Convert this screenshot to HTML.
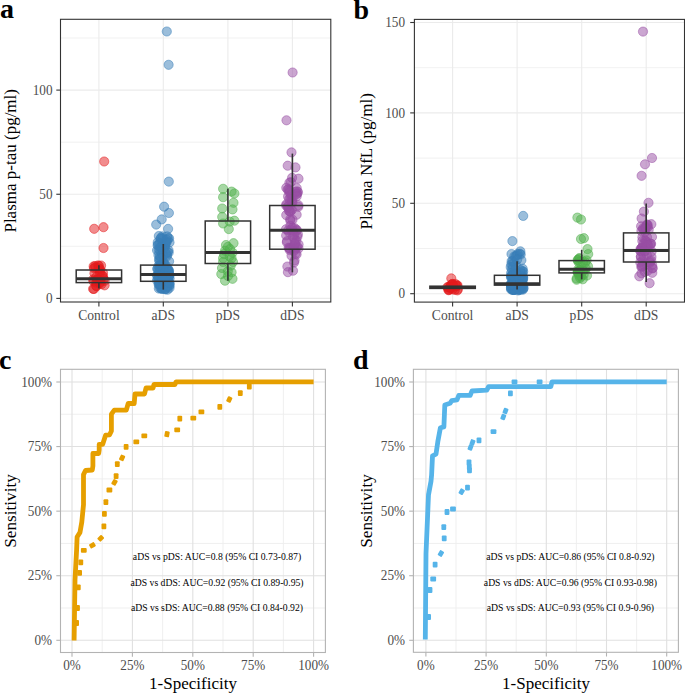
<!DOCTYPE html>
<html><head><meta charset="utf-8"><style>html,body{margin:0;padding:0;background:#fff;}svg{display:block;}</style></head>
<body><svg width="685" height="693" viewBox="0 0 685 693" font-family='"Liberation Serif", serif'>
<rect width="685" height="693" fill="#fff"/>
<rect x="60.5" y="19.3" width="270.3" height="282.7" fill="#fff"/>
<line x1="60.50" y1="246.32" x2="330.80" y2="246.32" stroke="#EEEEEE" stroke-width="0.8" />
<line x1="60.50" y1="142.17" x2="330.80" y2="142.17" stroke="#EEEEEE" stroke-width="0.8" />
<line x1="60.50" y1="38.02" x2="330.80" y2="38.02" stroke="#EEEEEE" stroke-width="0.8" />
<line x1="60.50" y1="298.40" x2="330.80" y2="298.40" stroke="#EBEBEB" stroke-width="1.1" />
<line x1="60.50" y1="194.25" x2="330.80" y2="194.25" stroke="#EBEBEB" stroke-width="1.1" />
<line x1="60.50" y1="90.10" x2="330.80" y2="90.10" stroke="#EBEBEB" stroke-width="1.1" />
<line x1="98.90" y1="19.30" x2="98.90" y2="302.00" stroke="#EBEBEB" stroke-width="1.1" />
<line x1="163.30" y1="19.30" x2="163.30" y2="302.00" stroke="#EBEBEB" stroke-width="1.1" />
<line x1="227.90" y1="19.30" x2="227.90" y2="302.00" stroke="#EBEBEB" stroke-width="1.1" />
<line x1="292.40" y1="19.30" x2="292.40" y2="302.00" stroke="#EBEBEB" stroke-width="1.1" />
<circle cx="104.20" cy="161.50" r="4.6" fill="#E41A1C" fill-opacity="0.5" stroke="#E41A1C" stroke-opacity="0.5" stroke-width="1"/>
<circle cx="94.20" cy="228.80" r="4.6" fill="#E41A1C" fill-opacity="0.5" stroke="#E41A1C" stroke-opacity="0.5" stroke-width="1"/>
<circle cx="103.50" cy="227.20" r="4.6" fill="#E41A1C" fill-opacity="0.5" stroke="#E41A1C" stroke-opacity="0.5" stroke-width="1"/>
<circle cx="103.50" cy="248.00" r="4.6" fill="#E41A1C" fill-opacity="0.5" stroke="#E41A1C" stroke-opacity="0.5" stroke-width="1"/>
<circle cx="94.43" cy="273.21" r="4.6" fill="#E41A1C" fill-opacity="0.5" stroke="#E41A1C" stroke-opacity="0.5" stroke-width="1"/>
<circle cx="93.43" cy="281.22" r="4.6" fill="#E41A1C" fill-opacity="0.5" stroke="#E41A1C" stroke-opacity="0.5" stroke-width="1"/>
<circle cx="97.18" cy="279.15" r="4.6" fill="#E41A1C" fill-opacity="0.5" stroke="#E41A1C" stroke-opacity="0.5" stroke-width="1"/>
<circle cx="99.00" cy="266.01" r="4.6" fill="#E41A1C" fill-opacity="0.5" stroke="#E41A1C" stroke-opacity="0.5" stroke-width="1"/>
<circle cx="98.05" cy="265.47" r="4.6" fill="#E41A1C" fill-opacity="0.5" stroke="#E41A1C" stroke-opacity="0.5" stroke-width="1"/>
<circle cx="93.66" cy="266.32" r="4.6" fill="#E41A1C" fill-opacity="0.5" stroke="#E41A1C" stroke-opacity="0.5" stroke-width="1"/>
<circle cx="103.08" cy="276.24" r="4.6" fill="#E41A1C" fill-opacity="0.5" stroke="#E41A1C" stroke-opacity="0.5" stroke-width="1"/>
<circle cx="95.36" cy="267.72" r="4.6" fill="#E41A1C" fill-opacity="0.5" stroke="#E41A1C" stroke-opacity="0.5" stroke-width="1"/>
<circle cx="104.63" cy="280.79" r="4.6" fill="#E41A1C" fill-opacity="0.5" stroke="#E41A1C" stroke-opacity="0.5" stroke-width="1"/>
<circle cx="97.58" cy="279.89" r="4.6" fill="#E41A1C" fill-opacity="0.5" stroke="#E41A1C" stroke-opacity="0.5" stroke-width="1"/>
<circle cx="93.10" cy="288.88" r="4.6" fill="#E41A1C" fill-opacity="0.5" stroke="#E41A1C" stroke-opacity="0.5" stroke-width="1"/>
<circle cx="96.21" cy="285.82" r="4.6" fill="#E41A1C" fill-opacity="0.5" stroke="#E41A1C" stroke-opacity="0.5" stroke-width="1"/>
<circle cx="94.01" cy="268.25" r="4.6" fill="#E41A1C" fill-opacity="0.5" stroke="#E41A1C" stroke-opacity="0.5" stroke-width="1"/>
<circle cx="102.95" cy="272.75" r="4.6" fill="#E41A1C" fill-opacity="0.5" stroke="#E41A1C" stroke-opacity="0.5" stroke-width="1"/>
<circle cx="99.94" cy="269.20" r="4.6" fill="#E41A1C" fill-opacity="0.5" stroke="#E41A1C" stroke-opacity="0.5" stroke-width="1"/>
<circle cx="97.27" cy="281.00" r="4.6" fill="#E41A1C" fill-opacity="0.5" stroke="#E41A1C" stroke-opacity="0.5" stroke-width="1"/>
<circle cx="93.30" cy="279.36" r="4.6" fill="#E41A1C" fill-opacity="0.5" stroke="#E41A1C" stroke-opacity="0.5" stroke-width="1"/>
<circle cx="95.14" cy="266.05" r="4.6" fill="#E41A1C" fill-opacity="0.5" stroke="#E41A1C" stroke-opacity="0.5" stroke-width="1"/>
<circle cx="97.97" cy="281.75" r="4.6" fill="#E41A1C" fill-opacity="0.5" stroke="#E41A1C" stroke-opacity="0.5" stroke-width="1"/>
<circle cx="100.00" cy="272.92" r="4.6" fill="#E41A1C" fill-opacity="0.5" stroke="#E41A1C" stroke-opacity="0.5" stroke-width="1"/>
<circle cx="96.34" cy="277.10" r="4.6" fill="#E41A1C" fill-opacity="0.5" stroke="#E41A1C" stroke-opacity="0.5" stroke-width="1"/>
<circle cx="101.45" cy="284.15" r="4.6" fill="#E41A1C" fill-opacity="0.5" stroke="#E41A1C" stroke-opacity="0.5" stroke-width="1"/>
<circle cx="99.85" cy="270.85" r="4.6" fill="#E41A1C" fill-opacity="0.5" stroke="#E41A1C" stroke-opacity="0.5" stroke-width="1"/>
<circle cx="103.70" cy="278.95" r="4.6" fill="#E41A1C" fill-opacity="0.5" stroke="#E41A1C" stroke-opacity="0.5" stroke-width="1"/>
<circle cx="96.19" cy="282.63" r="4.6" fill="#E41A1C" fill-opacity="0.5" stroke="#E41A1C" stroke-opacity="0.5" stroke-width="1"/>
<circle cx="94.01" cy="288.98" r="4.6" fill="#E41A1C" fill-opacity="0.5" stroke="#E41A1C" stroke-opacity="0.5" stroke-width="1"/>
<circle cx="102.19" cy="276.04" r="4.6" fill="#E41A1C" fill-opacity="0.5" stroke="#E41A1C" stroke-opacity="0.5" stroke-width="1"/>
<circle cx="98.76" cy="268.45" r="4.6" fill="#E41A1C" fill-opacity="0.5" stroke="#E41A1C" stroke-opacity="0.5" stroke-width="1"/>
<circle cx="101.05" cy="265.52" r="4.6" fill="#E41A1C" fill-opacity="0.5" stroke="#E41A1C" stroke-opacity="0.5" stroke-width="1"/>
<circle cx="99.83" cy="283.38" r="4.6" fill="#E41A1C" fill-opacity="0.5" stroke="#E41A1C" stroke-opacity="0.5" stroke-width="1"/>
<circle cx="96.52" cy="286.26" r="4.6" fill="#E41A1C" fill-opacity="0.5" stroke="#E41A1C" stroke-opacity="0.5" stroke-width="1"/>
<circle cx="100.11" cy="282.02" r="4.6" fill="#E41A1C" fill-opacity="0.5" stroke="#E41A1C" stroke-opacity="0.5" stroke-width="1"/>
<circle cx="98.34" cy="279.94" r="4.6" fill="#E41A1C" fill-opacity="0.5" stroke="#E41A1C" stroke-opacity="0.5" stroke-width="1"/>
<circle cx="104.59" cy="285.34" r="4.6" fill="#E41A1C" fill-opacity="0.5" stroke="#E41A1C" stroke-opacity="0.5" stroke-width="1"/>
<circle cx="166.80" cy="31.50" r="4.6" fill="#377EB8" fill-opacity="0.5" stroke="#377EB8" stroke-opacity="0.5" stroke-width="1"/>
<circle cx="168.60" cy="64.80" r="4.6" fill="#377EB8" fill-opacity="0.5" stroke="#377EB8" stroke-opacity="0.5" stroke-width="1"/>
<circle cx="168.80" cy="181.60" r="4.6" fill="#377EB8" fill-opacity="0.5" stroke="#377EB8" stroke-opacity="0.5" stroke-width="1"/>
<circle cx="164.10" cy="206.70" r="4.6" fill="#377EB8" fill-opacity="0.5" stroke="#377EB8" stroke-opacity="0.5" stroke-width="1"/>
<circle cx="168.90" cy="213.00" r="4.6" fill="#377EB8" fill-opacity="0.5" stroke="#377EB8" stroke-opacity="0.5" stroke-width="1"/>
<circle cx="161.70" cy="219.40" r="4.6" fill="#377EB8" fill-opacity="0.5" stroke="#377EB8" stroke-opacity="0.5" stroke-width="1"/>
<circle cx="156.20" cy="224.60" r="4.6" fill="#377EB8" fill-opacity="0.5" stroke="#377EB8" stroke-opacity="0.5" stroke-width="1"/>
<circle cx="168.10" cy="228.90" r="4.6" fill="#377EB8" fill-opacity="0.5" stroke="#377EB8" stroke-opacity="0.5" stroke-width="1"/>
<circle cx="165.40" cy="273.44" r="4.6" fill="#377EB8" fill-opacity="0.5" stroke="#377EB8" stroke-opacity="0.5" stroke-width="1"/>
<circle cx="165.88" cy="242.07" r="4.6" fill="#377EB8" fill-opacity="0.5" stroke="#377EB8" stroke-opacity="0.5" stroke-width="1"/>
<circle cx="169.61" cy="278.46" r="4.6" fill="#377EB8" fill-opacity="0.5" stroke="#377EB8" stroke-opacity="0.5" stroke-width="1"/>
<circle cx="160.54" cy="283.80" r="4.6" fill="#377EB8" fill-opacity="0.5" stroke="#377EB8" stroke-opacity="0.5" stroke-width="1"/>
<circle cx="165.46" cy="270.15" r="4.6" fill="#377EB8" fill-opacity="0.5" stroke="#377EB8" stroke-opacity="0.5" stroke-width="1"/>
<circle cx="162.81" cy="238.26" r="4.6" fill="#377EB8" fill-opacity="0.5" stroke="#377EB8" stroke-opacity="0.5" stroke-width="1"/>
<circle cx="158.40" cy="254.93" r="4.6" fill="#377EB8" fill-opacity="0.5" stroke="#377EB8" stroke-opacity="0.5" stroke-width="1"/>
<circle cx="166.73" cy="241.90" r="4.6" fill="#377EB8" fill-opacity="0.5" stroke="#377EB8" stroke-opacity="0.5" stroke-width="1"/>
<circle cx="160.07" cy="250.12" r="4.6" fill="#377EB8" fill-opacity="0.5" stroke="#377EB8" stroke-opacity="0.5" stroke-width="1"/>
<circle cx="168.05" cy="270.34" r="4.6" fill="#377EB8" fill-opacity="0.5" stroke="#377EB8" stroke-opacity="0.5" stroke-width="1"/>
<circle cx="162.65" cy="244.07" r="4.6" fill="#377EB8" fill-opacity="0.5" stroke="#377EB8" stroke-opacity="0.5" stroke-width="1"/>
<circle cx="168.21" cy="275.76" r="4.6" fill="#377EB8" fill-opacity="0.5" stroke="#377EB8" stroke-opacity="0.5" stroke-width="1"/>
<circle cx="167.96" cy="283.71" r="4.6" fill="#377EB8" fill-opacity="0.5" stroke="#377EB8" stroke-opacity="0.5" stroke-width="1"/>
<circle cx="162.22" cy="266.16" r="4.6" fill="#377EB8" fill-opacity="0.5" stroke="#377EB8" stroke-opacity="0.5" stroke-width="1"/>
<circle cx="168.22" cy="269.15" r="4.6" fill="#377EB8" fill-opacity="0.5" stroke="#377EB8" stroke-opacity="0.5" stroke-width="1"/>
<circle cx="158.83" cy="288.53" r="4.6" fill="#377EB8" fill-opacity="0.5" stroke="#377EB8" stroke-opacity="0.5" stroke-width="1"/>
<circle cx="159.87" cy="255.94" r="4.6" fill="#377EB8" fill-opacity="0.5" stroke="#377EB8" stroke-opacity="0.5" stroke-width="1"/>
<circle cx="163.11" cy="263.03" r="4.6" fill="#377EB8" fill-opacity="0.5" stroke="#377EB8" stroke-opacity="0.5" stroke-width="1"/>
<circle cx="160.26" cy="276.86" r="4.6" fill="#377EB8" fill-opacity="0.5" stroke="#377EB8" stroke-opacity="0.5" stroke-width="1"/>
<circle cx="162.26" cy="236.41" r="4.6" fill="#377EB8" fill-opacity="0.5" stroke="#377EB8" stroke-opacity="0.5" stroke-width="1"/>
<circle cx="164.15" cy="269.54" r="4.6" fill="#377EB8" fill-opacity="0.5" stroke="#377EB8" stroke-opacity="0.5" stroke-width="1"/>
<circle cx="165.74" cy="288.37" r="4.6" fill="#377EB8" fill-opacity="0.5" stroke="#377EB8" stroke-opacity="0.5" stroke-width="1"/>
<circle cx="164.81" cy="274.83" r="4.6" fill="#377EB8" fill-opacity="0.5" stroke="#377EB8" stroke-opacity="0.5" stroke-width="1"/>
<circle cx="157.59" cy="279.26" r="4.6" fill="#377EB8" fill-opacity="0.5" stroke="#377EB8" stroke-opacity="0.5" stroke-width="1"/>
<circle cx="166.88" cy="286.50" r="4.6" fill="#377EB8" fill-opacity="0.5" stroke="#377EB8" stroke-opacity="0.5" stroke-width="1"/>
<circle cx="167.11" cy="285.63" r="4.6" fill="#377EB8" fill-opacity="0.5" stroke="#377EB8" stroke-opacity="0.5" stroke-width="1"/>
<circle cx="162.01" cy="270.40" r="4.6" fill="#377EB8" fill-opacity="0.5" stroke="#377EB8" stroke-opacity="0.5" stroke-width="1"/>
<circle cx="165.02" cy="246.92" r="4.6" fill="#377EB8" fill-opacity="0.5" stroke="#377EB8" stroke-opacity="0.5" stroke-width="1"/>
<circle cx="157.76" cy="242.22" r="4.6" fill="#377EB8" fill-opacity="0.5" stroke="#377EB8" stroke-opacity="0.5" stroke-width="1"/>
<circle cx="158.98" cy="259.98" r="4.6" fill="#377EB8" fill-opacity="0.5" stroke="#377EB8" stroke-opacity="0.5" stroke-width="1"/>
<circle cx="157.57" cy="268.45" r="4.6" fill="#377EB8" fill-opacity="0.5" stroke="#377EB8" stroke-opacity="0.5" stroke-width="1"/>
<circle cx="158.84" cy="236.02" r="4.6" fill="#377EB8" fill-opacity="0.5" stroke="#377EB8" stroke-opacity="0.5" stroke-width="1"/>
<circle cx="161.55" cy="246.66" r="4.6" fill="#377EB8" fill-opacity="0.5" stroke="#377EB8" stroke-opacity="0.5" stroke-width="1"/>
<circle cx="168.09" cy="238.55" r="4.6" fill="#377EB8" fill-opacity="0.5" stroke="#377EB8" stroke-opacity="0.5" stroke-width="1"/>
<circle cx="158.80" cy="277.55" r="4.6" fill="#377EB8" fill-opacity="0.5" stroke="#377EB8" stroke-opacity="0.5" stroke-width="1"/>
<circle cx="161.35" cy="265.18" r="4.6" fill="#377EB8" fill-opacity="0.5" stroke="#377EB8" stroke-opacity="0.5" stroke-width="1"/>
<circle cx="158.47" cy="269.35" r="4.6" fill="#377EB8" fill-opacity="0.5" stroke="#377EB8" stroke-opacity="0.5" stroke-width="1"/>
<circle cx="169.61" cy="284.74" r="4.6" fill="#377EB8" fill-opacity="0.5" stroke="#377EB8" stroke-opacity="0.5" stroke-width="1"/>
<circle cx="163.09" cy="273.13" r="4.6" fill="#377EB8" fill-opacity="0.5" stroke="#377EB8" stroke-opacity="0.5" stroke-width="1"/>
<circle cx="158.21" cy="244.73" r="4.6" fill="#377EB8" fill-opacity="0.5" stroke="#377EB8" stroke-opacity="0.5" stroke-width="1"/>
<circle cx="160.29" cy="268.55" r="4.6" fill="#377EB8" fill-opacity="0.5" stroke="#377EB8" stroke-opacity="0.5" stroke-width="1"/>
<circle cx="158.97" cy="284.04" r="4.6" fill="#377EB8" fill-opacity="0.5" stroke="#377EB8" stroke-opacity="0.5" stroke-width="1"/>
<circle cx="169.07" cy="238.31" r="4.6" fill="#377EB8" fill-opacity="0.5" stroke="#377EB8" stroke-opacity="0.5" stroke-width="1"/>
<circle cx="158.78" cy="275.18" r="4.6" fill="#377EB8" fill-opacity="0.5" stroke="#377EB8" stroke-opacity="0.5" stroke-width="1"/>
<circle cx="157.25" cy="275.59" r="4.6" fill="#377EB8" fill-opacity="0.5" stroke="#377EB8" stroke-opacity="0.5" stroke-width="1"/>
<circle cx="169.42" cy="275.18" r="4.6" fill="#377EB8" fill-opacity="0.5" stroke="#377EB8" stroke-opacity="0.5" stroke-width="1"/>
<circle cx="165.81" cy="285.24" r="4.6" fill="#377EB8" fill-opacity="0.5" stroke="#377EB8" stroke-opacity="0.5" stroke-width="1"/>
<circle cx="161.59" cy="265.51" r="4.6" fill="#377EB8" fill-opacity="0.5" stroke="#377EB8" stroke-opacity="0.5" stroke-width="1"/>
<circle cx="166.78" cy="254.80" r="4.6" fill="#377EB8" fill-opacity="0.5" stroke="#377EB8" stroke-opacity="0.5" stroke-width="1"/>
<circle cx="166.87" cy="275.30" r="4.6" fill="#377EB8" fill-opacity="0.5" stroke="#377EB8" stroke-opacity="0.5" stroke-width="1"/>
<circle cx="159.75" cy="268.06" r="4.6" fill="#377EB8" fill-opacity="0.5" stroke="#377EB8" stroke-opacity="0.5" stroke-width="1"/>
<circle cx="169.51" cy="283.44" r="4.6" fill="#377EB8" fill-opacity="0.5" stroke="#377EB8" stroke-opacity="0.5" stroke-width="1"/>
<circle cx="167.22" cy="284.87" r="4.6" fill="#377EB8" fill-opacity="0.5" stroke="#377EB8" stroke-opacity="0.5" stroke-width="1"/>
<circle cx="166.37" cy="283.68" r="4.6" fill="#377EB8" fill-opacity="0.5" stroke="#377EB8" stroke-opacity="0.5" stroke-width="1"/>
<circle cx="163.53" cy="262.21" r="4.6" fill="#377EB8" fill-opacity="0.5" stroke="#377EB8" stroke-opacity="0.5" stroke-width="1"/>
<circle cx="157.27" cy="269.03" r="4.6" fill="#377EB8" fill-opacity="0.5" stroke="#377EB8" stroke-opacity="0.5" stroke-width="1"/>
<circle cx="160.48" cy="238.79" r="4.6" fill="#377EB8" fill-opacity="0.5" stroke="#377EB8" stroke-opacity="0.5" stroke-width="1"/>
<circle cx="165.76" cy="265.44" r="4.6" fill="#377EB8" fill-opacity="0.5" stroke="#377EB8" stroke-opacity="0.5" stroke-width="1"/>
<circle cx="162.62" cy="288.49" r="4.6" fill="#377EB8" fill-opacity="0.5" stroke="#377EB8" stroke-opacity="0.5" stroke-width="1"/>
<circle cx="169.55" cy="287.81" r="4.6" fill="#377EB8" fill-opacity="0.5" stroke="#377EB8" stroke-opacity="0.5" stroke-width="1"/>
<circle cx="161.57" cy="288.43" r="4.6" fill="#377EB8" fill-opacity="0.5" stroke="#377EB8" stroke-opacity="0.5" stroke-width="1"/>
<circle cx="159.80" cy="261.43" r="4.6" fill="#377EB8" fill-opacity="0.5" stroke="#377EB8" stroke-opacity="0.5" stroke-width="1"/>
<circle cx="159.52" cy="258.49" r="4.6" fill="#377EB8" fill-opacity="0.5" stroke="#377EB8" stroke-opacity="0.5" stroke-width="1"/>
<circle cx="168.42" cy="277.82" r="4.6" fill="#377EB8" fill-opacity="0.5" stroke="#377EB8" stroke-opacity="0.5" stroke-width="1"/>
<circle cx="163.04" cy="284.45" r="4.6" fill="#377EB8" fill-opacity="0.5" stroke="#377EB8" stroke-opacity="0.5" stroke-width="1"/>
<circle cx="167.14" cy="278.62" r="4.6" fill="#377EB8" fill-opacity="0.5" stroke="#377EB8" stroke-opacity="0.5" stroke-width="1"/>
<circle cx="165.36" cy="244.59" r="4.6" fill="#377EB8" fill-opacity="0.5" stroke="#377EB8" stroke-opacity="0.5" stroke-width="1"/>
<circle cx="166.91" cy="286.86" r="4.6" fill="#377EB8" fill-opacity="0.5" stroke="#377EB8" stroke-opacity="0.5" stroke-width="1"/>
<circle cx="163.02" cy="281.30" r="4.6" fill="#377EB8" fill-opacity="0.5" stroke="#377EB8" stroke-opacity="0.5" stroke-width="1"/>
<circle cx="167.00" cy="256.23" r="4.6" fill="#377EB8" fill-opacity="0.5" stroke="#377EB8" stroke-opacity="0.5" stroke-width="1"/>
<circle cx="167.15" cy="268.17" r="4.6" fill="#377EB8" fill-opacity="0.5" stroke="#377EB8" stroke-opacity="0.5" stroke-width="1"/>
<circle cx="161.97" cy="289.01" r="4.6" fill="#377EB8" fill-opacity="0.5" stroke="#377EB8" stroke-opacity="0.5" stroke-width="1"/>
<circle cx="169.02" cy="270.73" r="4.6" fill="#377EB8" fill-opacity="0.5" stroke="#377EB8" stroke-opacity="0.5" stroke-width="1"/>
<circle cx="159.08" cy="280.60" r="4.6" fill="#377EB8" fill-opacity="0.5" stroke="#377EB8" stroke-opacity="0.5" stroke-width="1"/>
<circle cx="158.83" cy="249.84" r="4.6" fill="#377EB8" fill-opacity="0.5" stroke="#377EB8" stroke-opacity="0.5" stroke-width="1"/>
<circle cx="167.22" cy="286.69" r="4.6" fill="#377EB8" fill-opacity="0.5" stroke="#377EB8" stroke-opacity="0.5" stroke-width="1"/>
<circle cx="167.48" cy="252.21" r="4.6" fill="#377EB8" fill-opacity="0.5" stroke="#377EB8" stroke-opacity="0.5" stroke-width="1"/>
<circle cx="165.31" cy="289.31" r="4.6" fill="#377EB8" fill-opacity="0.5" stroke="#377EB8" stroke-opacity="0.5" stroke-width="1"/>
<circle cx="163.92" cy="268.84" r="4.6" fill="#377EB8" fill-opacity="0.5" stroke="#377EB8" stroke-opacity="0.5" stroke-width="1"/>
<circle cx="157.08" cy="250.33" r="4.6" fill="#377EB8" fill-opacity="0.5" stroke="#377EB8" stroke-opacity="0.5" stroke-width="1"/>
<circle cx="165.22" cy="288.99" r="4.6" fill="#377EB8" fill-opacity="0.5" stroke="#377EB8" stroke-opacity="0.5" stroke-width="1"/>
<circle cx="168.85" cy="275.13" r="4.6" fill="#377EB8" fill-opacity="0.5" stroke="#377EB8" stroke-opacity="0.5" stroke-width="1"/>
<circle cx="168.06" cy="271.94" r="4.6" fill="#377EB8" fill-opacity="0.5" stroke="#377EB8" stroke-opacity="0.5" stroke-width="1"/>
<circle cx="159.60" cy="283.95" r="4.6" fill="#377EB8" fill-opacity="0.5" stroke="#377EB8" stroke-opacity="0.5" stroke-width="1"/>
<circle cx="160.65" cy="265.17" r="4.6" fill="#377EB8" fill-opacity="0.5" stroke="#377EB8" stroke-opacity="0.5" stroke-width="1"/>
<circle cx="164.41" cy="263.93" r="4.6" fill="#377EB8" fill-opacity="0.5" stroke="#377EB8" stroke-opacity="0.5" stroke-width="1"/>
<circle cx="162.26" cy="265.45" r="4.6" fill="#377EB8" fill-opacity="0.5" stroke="#377EB8" stroke-opacity="0.5" stroke-width="1"/>
<circle cx="168.55" cy="250.34" r="4.6" fill="#377EB8" fill-opacity="0.5" stroke="#377EB8" stroke-opacity="0.5" stroke-width="1"/>
<circle cx="162.76" cy="268.96" r="4.6" fill="#377EB8" fill-opacity="0.5" stroke="#377EB8" stroke-opacity="0.5" stroke-width="1"/>
<circle cx="168.47" cy="276.70" r="4.6" fill="#377EB8" fill-opacity="0.5" stroke="#377EB8" stroke-opacity="0.5" stroke-width="1"/>
<circle cx="168.65" cy="271.45" r="4.6" fill="#377EB8" fill-opacity="0.5" stroke="#377EB8" stroke-opacity="0.5" stroke-width="1"/>
<circle cx="163.71" cy="274.45" r="4.6" fill="#377EB8" fill-opacity="0.5" stroke="#377EB8" stroke-opacity="0.5" stroke-width="1"/>
<circle cx="157.14" cy="275.05" r="4.6" fill="#377EB8" fill-opacity="0.5" stroke="#377EB8" stroke-opacity="0.5" stroke-width="1"/>
<circle cx="159.24" cy="272.17" r="4.6" fill="#377EB8" fill-opacity="0.5" stroke="#377EB8" stroke-opacity="0.5" stroke-width="1"/>
<circle cx="167.13" cy="236.39" r="4.6" fill="#377EB8" fill-opacity="0.5" stroke="#377EB8" stroke-opacity="0.5" stroke-width="1"/>
<circle cx="162.96" cy="255.46" r="4.6" fill="#377EB8" fill-opacity="0.5" stroke="#377EB8" stroke-opacity="0.5" stroke-width="1"/>
<circle cx="164.02" cy="280.62" r="4.6" fill="#377EB8" fill-opacity="0.5" stroke="#377EB8" stroke-opacity="0.5" stroke-width="1"/>
<circle cx="163.53" cy="267.93" r="4.6" fill="#377EB8" fill-opacity="0.5" stroke="#377EB8" stroke-opacity="0.5" stroke-width="1"/>
<circle cx="166.94" cy="275.93" r="4.6" fill="#377EB8" fill-opacity="0.5" stroke="#377EB8" stroke-opacity="0.5" stroke-width="1"/>
<circle cx="164.07" cy="247.24" r="4.6" fill="#377EB8" fill-opacity="0.5" stroke="#377EB8" stroke-opacity="0.5" stroke-width="1"/>
<circle cx="160.44" cy="264.91" r="4.6" fill="#377EB8" fill-opacity="0.5" stroke="#377EB8" stroke-opacity="0.5" stroke-width="1"/>
<circle cx="163.40" cy="282.07" r="4.6" fill="#377EB8" fill-opacity="0.5" stroke="#377EB8" stroke-opacity="0.5" stroke-width="1"/>
<circle cx="166.63" cy="276.10" r="4.6" fill="#377EB8" fill-opacity="0.5" stroke="#377EB8" stroke-opacity="0.5" stroke-width="1"/>
<circle cx="162.57" cy="286.95" r="4.6" fill="#377EB8" fill-opacity="0.5" stroke="#377EB8" stroke-opacity="0.5" stroke-width="1"/>
<circle cx="163.37" cy="277.51" r="4.6" fill="#377EB8" fill-opacity="0.5" stroke="#377EB8" stroke-opacity="0.5" stroke-width="1"/>
<circle cx="165.77" cy="274.74" r="4.6" fill="#377EB8" fill-opacity="0.5" stroke="#377EB8" stroke-opacity="0.5" stroke-width="1"/>
<circle cx="163.73" cy="272.63" r="4.6" fill="#377EB8" fill-opacity="0.5" stroke="#377EB8" stroke-opacity="0.5" stroke-width="1"/>
<circle cx="168.95" cy="273.58" r="4.6" fill="#377EB8" fill-opacity="0.5" stroke="#377EB8" stroke-opacity="0.5" stroke-width="1"/>
<circle cx="168.12" cy="279.90" r="4.6" fill="#377EB8" fill-opacity="0.5" stroke="#377EB8" stroke-opacity="0.5" stroke-width="1"/>
<circle cx="160.22" cy="287.99" r="4.6" fill="#377EB8" fill-opacity="0.5" stroke="#377EB8" stroke-opacity="0.5" stroke-width="1"/>
<circle cx="168.97" cy="276.04" r="4.6" fill="#377EB8" fill-opacity="0.5" stroke="#377EB8" stroke-opacity="0.5" stroke-width="1"/>
<circle cx="158.66" cy="284.43" r="4.6" fill="#377EB8" fill-opacity="0.5" stroke="#377EB8" stroke-opacity="0.5" stroke-width="1"/>
<circle cx="162.56" cy="249.17" r="4.6" fill="#377EB8" fill-opacity="0.5" stroke="#377EB8" stroke-opacity="0.5" stroke-width="1"/>
<circle cx="159.98" cy="243.25" r="4.6" fill="#377EB8" fill-opacity="0.5" stroke="#377EB8" stroke-opacity="0.5" stroke-width="1"/>
<circle cx="165.47" cy="243.31" r="4.6" fill="#377EB8" fill-opacity="0.5" stroke="#377EB8" stroke-opacity="0.5" stroke-width="1"/>
<circle cx="168.38" cy="282.48" r="4.6" fill="#377EB8" fill-opacity="0.5" stroke="#377EB8" stroke-opacity="0.5" stroke-width="1"/>
<circle cx="166.07" cy="253.24" r="4.6" fill="#377EB8" fill-opacity="0.5" stroke="#377EB8" stroke-opacity="0.5" stroke-width="1"/>
<circle cx="158.73" cy="278.82" r="4.6" fill="#377EB8" fill-opacity="0.5" stroke="#377EB8" stroke-opacity="0.5" stroke-width="1"/>
<circle cx="169.28" cy="285.92" r="4.6" fill="#377EB8" fill-opacity="0.5" stroke="#377EB8" stroke-opacity="0.5" stroke-width="1"/>
<circle cx="169.09" cy="261.33" r="4.6" fill="#377EB8" fill-opacity="0.5" stroke="#377EB8" stroke-opacity="0.5" stroke-width="1"/>
<circle cx="163.14" cy="270.62" r="4.6" fill="#377EB8" fill-opacity="0.5" stroke="#377EB8" stroke-opacity="0.5" stroke-width="1"/>
<circle cx="167.56" cy="289.65" r="4.6" fill="#377EB8" fill-opacity="0.5" stroke="#377EB8" stroke-opacity="0.5" stroke-width="1"/>
<circle cx="162.42" cy="254.11" r="4.6" fill="#377EB8" fill-opacity="0.5" stroke="#377EB8" stroke-opacity="0.5" stroke-width="1"/>
<circle cx="161.24" cy="274.83" r="4.6" fill="#377EB8" fill-opacity="0.5" stroke="#377EB8" stroke-opacity="0.5" stroke-width="1"/>
<circle cx="160.98" cy="258.37" r="4.6" fill="#377EB8" fill-opacity="0.5" stroke="#377EB8" stroke-opacity="0.5" stroke-width="1"/>
<circle cx="157.15" cy="280.53" r="4.6" fill="#377EB8" fill-opacity="0.5" stroke="#377EB8" stroke-opacity="0.5" stroke-width="1"/>
<circle cx="162.54" cy="275.89" r="4.6" fill="#377EB8" fill-opacity="0.5" stroke="#377EB8" stroke-opacity="0.5" stroke-width="1"/>
<circle cx="161.14" cy="237.81" r="4.6" fill="#377EB8" fill-opacity="0.5" stroke="#377EB8" stroke-opacity="0.5" stroke-width="1"/>
<circle cx="163.46" cy="277.82" r="4.6" fill="#377EB8" fill-opacity="0.5" stroke="#377EB8" stroke-opacity="0.5" stroke-width="1"/>
<circle cx="169.51" cy="242.43" r="4.6" fill="#377EB8" fill-opacity="0.5" stroke="#377EB8" stroke-opacity="0.5" stroke-width="1"/>
<circle cx="169.34" cy="282.64" r="4.6" fill="#377EB8" fill-opacity="0.5" stroke="#377EB8" stroke-opacity="0.5" stroke-width="1"/>
<circle cx="160.30" cy="247.08" r="4.6" fill="#377EB8" fill-opacity="0.5" stroke="#377EB8" stroke-opacity="0.5" stroke-width="1"/>
<circle cx="166.87" cy="239.96" r="4.6" fill="#377EB8" fill-opacity="0.5" stroke="#377EB8" stroke-opacity="0.5" stroke-width="1"/>
<circle cx="158.56" cy="265.86" r="4.6" fill="#377EB8" fill-opacity="0.5" stroke="#377EB8" stroke-opacity="0.5" stroke-width="1"/>
<circle cx="168.57" cy="271.51" r="4.6" fill="#377EB8" fill-opacity="0.5" stroke="#377EB8" stroke-opacity="0.5" stroke-width="1"/>
<circle cx="160.21" cy="283.70" r="4.6" fill="#377EB8" fill-opacity="0.5" stroke="#377EB8" stroke-opacity="0.5" stroke-width="1"/>
<circle cx="168.67" cy="252.61" r="4.6" fill="#377EB8" fill-opacity="0.5" stroke="#377EB8" stroke-opacity="0.5" stroke-width="1"/>
<circle cx="165.87" cy="276.35" r="4.6" fill="#377EB8" fill-opacity="0.5" stroke="#377EB8" stroke-opacity="0.5" stroke-width="1"/>
<circle cx="157.64" cy="245.17" r="4.6" fill="#377EB8" fill-opacity="0.5" stroke="#377EB8" stroke-opacity="0.5" stroke-width="1"/>
<circle cx="162.34" cy="279.59" r="4.6" fill="#377EB8" fill-opacity="0.5" stroke="#377EB8" stroke-opacity="0.5" stroke-width="1"/>
<circle cx="223.10" cy="188.80" r="4.6" fill="#4DAF4A" fill-opacity="0.5" stroke="#4DAF4A" stroke-opacity="0.5" stroke-width="1"/>
<circle cx="231.60" cy="191.60" r="4.6" fill="#4DAF4A" fill-opacity="0.5" stroke="#4DAF4A" stroke-opacity="0.5" stroke-width="1"/>
<circle cx="234.40" cy="193.50" r="4.6" fill="#4DAF4A" fill-opacity="0.5" stroke="#4DAF4A" stroke-opacity="0.5" stroke-width="1"/>
<circle cx="223.10" cy="197.20" r="4.6" fill="#4DAF4A" fill-opacity="0.5" stroke="#4DAF4A" stroke-opacity="0.5" stroke-width="1"/>
<circle cx="233.50" cy="202.80" r="4.6" fill="#4DAF4A" fill-opacity="0.5" stroke="#4DAF4A" stroke-opacity="0.5" stroke-width="1"/>
<circle cx="222.20" cy="208.50" r="4.6" fill="#4DAF4A" fill-opacity="0.5" stroke="#4DAF4A" stroke-opacity="0.5" stroke-width="1"/>
<circle cx="232.50" cy="209.40" r="4.6" fill="#4DAF4A" fill-opacity="0.5" stroke="#4DAF4A" stroke-opacity="0.5" stroke-width="1"/>
<circle cx="222.20" cy="216.90" r="4.6" fill="#4DAF4A" fill-opacity="0.5" stroke="#4DAF4A" stroke-opacity="0.5" stroke-width="1"/>
<circle cx="234.40" cy="220.70" r="4.6" fill="#4DAF4A" fill-opacity="0.5" stroke="#4DAF4A" stroke-opacity="0.5" stroke-width="1"/>
<circle cx="223.10" cy="223.50" r="4.6" fill="#4DAF4A" fill-opacity="0.5" stroke="#4DAF4A" stroke-opacity="0.5" stroke-width="1"/>
<circle cx="229.70" cy="221.60" r="4.6" fill="#4DAF4A" fill-opacity="0.5" stroke="#4DAF4A" stroke-opacity="0.5" stroke-width="1"/>
<circle cx="228.80" cy="229.10" r="4.6" fill="#4DAF4A" fill-opacity="0.5" stroke="#4DAF4A" stroke-opacity="0.5" stroke-width="1"/>
<circle cx="233.50" cy="243.20" r="4.6" fill="#4DAF4A" fill-opacity="0.5" stroke="#4DAF4A" stroke-opacity="0.5" stroke-width="1"/>
<circle cx="227.80" cy="246.90" r="4.6" fill="#4DAF4A" fill-opacity="0.5" stroke="#4DAF4A" stroke-opacity="0.5" stroke-width="1"/>
<circle cx="225.00" cy="250.70" r="4.6" fill="#4DAF4A" fill-opacity="0.5" stroke="#4DAF4A" stroke-opacity="0.5" stroke-width="1"/>
<circle cx="232.50" cy="252.60" r="4.6" fill="#4DAF4A" fill-opacity="0.5" stroke="#4DAF4A" stroke-opacity="0.5" stroke-width="1"/>
<circle cx="223.10" cy="258.20" r="4.6" fill="#4DAF4A" fill-opacity="0.5" stroke="#4DAF4A" stroke-opacity="0.5" stroke-width="1"/>
<circle cx="231.60" cy="258.20" r="4.6" fill="#4DAF4A" fill-opacity="0.5" stroke="#4DAF4A" stroke-opacity="0.5" stroke-width="1"/>
<circle cx="223.10" cy="262.00" r="4.6" fill="#4DAF4A" fill-opacity="0.5" stroke="#4DAF4A" stroke-opacity="0.5" stroke-width="1"/>
<circle cx="230.70" cy="265.70" r="4.6" fill="#4DAF4A" fill-opacity="0.5" stroke="#4DAF4A" stroke-opacity="0.5" stroke-width="1"/>
<circle cx="221.30" cy="274.10" r="4.6" fill="#4DAF4A" fill-opacity="0.5" stroke="#4DAF4A" stroke-opacity="0.5" stroke-width="1"/>
<circle cx="231.60" cy="272.30" r="4.6" fill="#4DAF4A" fill-opacity="0.5" stroke="#4DAF4A" stroke-opacity="0.5" stroke-width="1"/>
<circle cx="225.00" cy="280.70" r="4.6" fill="#4DAF4A" fill-opacity="0.5" stroke="#4DAF4A" stroke-opacity="0.5" stroke-width="1"/>
<circle cx="232.50" cy="278.80" r="4.6" fill="#4DAF4A" fill-opacity="0.5" stroke="#4DAF4A" stroke-opacity="0.5" stroke-width="1"/>
<circle cx="227.80" cy="271.30" r="4.6" fill="#4DAF4A" fill-opacity="0.5" stroke="#4DAF4A" stroke-opacity="0.5" stroke-width="1"/>
<circle cx="229.70" cy="256.30" r="4.6" fill="#4DAF4A" fill-opacity="0.5" stroke="#4DAF4A" stroke-opacity="0.5" stroke-width="1"/>
<circle cx="226.00" cy="245.00" r="4.6" fill="#4DAF4A" fill-opacity="0.5" stroke="#4DAF4A" stroke-opacity="0.5" stroke-width="1"/>
<circle cx="230.00" cy="249.00" r="4.6" fill="#4DAF4A" fill-opacity="0.5" stroke="#4DAF4A" stroke-opacity="0.5" stroke-width="1"/>
<circle cx="224.00" cy="254.00" r="4.6" fill="#4DAF4A" fill-opacity="0.5" stroke="#4DAF4A" stroke-opacity="0.5" stroke-width="1"/>
<circle cx="233.00" cy="262.00" r="4.6" fill="#4DAF4A" fill-opacity="0.5" stroke="#4DAF4A" stroke-opacity="0.5" stroke-width="1"/>
<circle cx="228.00" cy="276.00" r="4.6" fill="#4DAF4A" fill-opacity="0.5" stroke="#4DAF4A" stroke-opacity="0.5" stroke-width="1"/>
<circle cx="222.00" cy="268.00" r="4.6" fill="#4DAF4A" fill-opacity="0.5" stroke="#4DAF4A" stroke-opacity="0.5" stroke-width="1"/>
<circle cx="292.60" cy="72.50" r="4.6" fill="#984EA3" fill-opacity="0.5" stroke="#984EA3" stroke-opacity="0.5" stroke-width="1"/>
<circle cx="286.50" cy="120.30" r="4.6" fill="#984EA3" fill-opacity="0.5" stroke="#984EA3" stroke-opacity="0.5" stroke-width="1"/>
<circle cx="291.50" cy="152.40" r="4.6" fill="#984EA3" fill-opacity="0.5" stroke="#984EA3" stroke-opacity="0.5" stroke-width="1"/>
<circle cx="287.70" cy="165.70" r="4.6" fill="#984EA3" fill-opacity="0.5" stroke="#984EA3" stroke-opacity="0.5" stroke-width="1"/>
<circle cx="295.50" cy="167.40" r="4.6" fill="#984EA3" fill-opacity="0.5" stroke="#984EA3" stroke-opacity="0.5" stroke-width="1"/>
<circle cx="292.10" cy="177.80" r="4.6" fill="#984EA3" fill-opacity="0.5" stroke="#984EA3" stroke-opacity="0.5" stroke-width="1"/>
<circle cx="298.50" cy="178.70" r="4.6" fill="#984EA3" fill-opacity="0.5" stroke="#984EA3" stroke-opacity="0.5" stroke-width="1"/>
<circle cx="298.01" cy="192.14" r="4.6" fill="#984EA3" fill-opacity="0.5" stroke="#984EA3" stroke-opacity="0.5" stroke-width="1"/>
<circle cx="296.26" cy="240.46" r="4.6" fill="#984EA3" fill-opacity="0.5" stroke="#984EA3" stroke-opacity="0.5" stroke-width="1"/>
<circle cx="296.96" cy="193.72" r="4.6" fill="#984EA3" fill-opacity="0.5" stroke="#984EA3" stroke-opacity="0.5" stroke-width="1"/>
<circle cx="297.04" cy="191.33" r="4.6" fill="#984EA3" fill-opacity="0.5" stroke="#984EA3" stroke-opacity="0.5" stroke-width="1"/>
<circle cx="290.34" cy="225.71" r="4.6" fill="#984EA3" fill-opacity="0.5" stroke="#984EA3" stroke-opacity="0.5" stroke-width="1"/>
<circle cx="297.86" cy="234.31" r="4.6" fill="#984EA3" fill-opacity="0.5" stroke="#984EA3" stroke-opacity="0.5" stroke-width="1"/>
<circle cx="287.65" cy="207.27" r="4.6" fill="#984EA3" fill-opacity="0.5" stroke="#984EA3" stroke-opacity="0.5" stroke-width="1"/>
<circle cx="289.05" cy="232.33" r="4.6" fill="#984EA3" fill-opacity="0.5" stroke="#984EA3" stroke-opacity="0.5" stroke-width="1"/>
<circle cx="288.07" cy="196.60" r="4.6" fill="#984EA3" fill-opacity="0.5" stroke="#984EA3" stroke-opacity="0.5" stroke-width="1"/>
<circle cx="288.58" cy="189.05" r="4.6" fill="#984EA3" fill-opacity="0.5" stroke="#984EA3" stroke-opacity="0.5" stroke-width="1"/>
<circle cx="289.90" cy="211.65" r="4.6" fill="#984EA3" fill-opacity="0.5" stroke="#984EA3" stroke-opacity="0.5" stroke-width="1"/>
<circle cx="289.71" cy="250.09" r="4.6" fill="#984EA3" fill-opacity="0.5" stroke="#984EA3" stroke-opacity="0.5" stroke-width="1"/>
<circle cx="288.28" cy="230.31" r="4.6" fill="#984EA3" fill-opacity="0.5" stroke="#984EA3" stroke-opacity="0.5" stroke-width="1"/>
<circle cx="286.23" cy="215.12" r="4.6" fill="#984EA3" fill-opacity="0.5" stroke="#984EA3" stroke-opacity="0.5" stroke-width="1"/>
<circle cx="286.20" cy="205.54" r="4.6" fill="#984EA3" fill-opacity="0.5" stroke="#984EA3" stroke-opacity="0.5" stroke-width="1"/>
<circle cx="293.05" cy="247.92" r="4.6" fill="#984EA3" fill-opacity="0.5" stroke="#984EA3" stroke-opacity="0.5" stroke-width="1"/>
<circle cx="292.08" cy="201.67" r="4.6" fill="#984EA3" fill-opacity="0.5" stroke="#984EA3" stroke-opacity="0.5" stroke-width="1"/>
<circle cx="287.36" cy="266.56" r="4.6" fill="#984EA3" fill-opacity="0.5" stroke="#984EA3" stroke-opacity="0.5" stroke-width="1"/>
<circle cx="291.53" cy="255.68" r="4.6" fill="#984EA3" fill-opacity="0.5" stroke="#984EA3" stroke-opacity="0.5" stroke-width="1"/>
<circle cx="296.68" cy="229.80" r="4.6" fill="#984EA3" fill-opacity="0.5" stroke="#984EA3" stroke-opacity="0.5" stroke-width="1"/>
<circle cx="292.49" cy="219.69" r="4.6" fill="#984EA3" fill-opacity="0.5" stroke="#984EA3" stroke-opacity="0.5" stroke-width="1"/>
<circle cx="298.58" cy="244.49" r="4.6" fill="#984EA3" fill-opacity="0.5" stroke="#984EA3" stroke-opacity="0.5" stroke-width="1"/>
<circle cx="296.65" cy="214.70" r="4.6" fill="#984EA3" fill-opacity="0.5" stroke="#984EA3" stroke-opacity="0.5" stroke-width="1"/>
<circle cx="294.14" cy="245.93" r="4.6" fill="#984EA3" fill-opacity="0.5" stroke="#984EA3" stroke-opacity="0.5" stroke-width="1"/>
<circle cx="290.45" cy="220.85" r="4.6" fill="#984EA3" fill-opacity="0.5" stroke="#984EA3" stroke-opacity="0.5" stroke-width="1"/>
<circle cx="287.66" cy="189.61" r="4.6" fill="#984EA3" fill-opacity="0.5" stroke="#984EA3" stroke-opacity="0.5" stroke-width="1"/>
<circle cx="295.48" cy="191.90" r="4.6" fill="#984EA3" fill-opacity="0.5" stroke="#984EA3" stroke-opacity="0.5" stroke-width="1"/>
<circle cx="288.09" cy="206.05" r="4.6" fill="#984EA3" fill-opacity="0.5" stroke="#984EA3" stroke-opacity="0.5" stroke-width="1"/>
<circle cx="296.77" cy="193.83" r="4.6" fill="#984EA3" fill-opacity="0.5" stroke="#984EA3" stroke-opacity="0.5" stroke-width="1"/>
<circle cx="294.58" cy="260.53" r="4.6" fill="#984EA3" fill-opacity="0.5" stroke="#984EA3" stroke-opacity="0.5" stroke-width="1"/>
<circle cx="289.10" cy="208.67" r="4.6" fill="#984EA3" fill-opacity="0.5" stroke="#984EA3" stroke-opacity="0.5" stroke-width="1"/>
<circle cx="291.88" cy="209.77" r="4.6" fill="#984EA3" fill-opacity="0.5" stroke="#984EA3" stroke-opacity="0.5" stroke-width="1"/>
<circle cx="291.71" cy="199.64" r="4.6" fill="#984EA3" fill-opacity="0.5" stroke="#984EA3" stroke-opacity="0.5" stroke-width="1"/>
<circle cx="298.31" cy="206.81" r="4.6" fill="#984EA3" fill-opacity="0.5" stroke="#984EA3" stroke-opacity="0.5" stroke-width="1"/>
<circle cx="293.00" cy="270.71" r="4.6" fill="#984EA3" fill-opacity="0.5" stroke="#984EA3" stroke-opacity="0.5" stroke-width="1"/>
<circle cx="298.36" cy="205.15" r="4.6" fill="#984EA3" fill-opacity="0.5" stroke="#984EA3" stroke-opacity="0.5" stroke-width="1"/>
<circle cx="290.56" cy="211.41" r="4.6" fill="#984EA3" fill-opacity="0.5" stroke="#984EA3" stroke-opacity="0.5" stroke-width="1"/>
<circle cx="290.88" cy="182.15" r="4.6" fill="#984EA3" fill-opacity="0.5" stroke="#984EA3" stroke-opacity="0.5" stroke-width="1"/>
<circle cx="292.44" cy="227.78" r="4.6" fill="#984EA3" fill-opacity="0.5" stroke="#984EA3" stroke-opacity="0.5" stroke-width="1"/>
<circle cx="292.46" cy="202.40" r="4.6" fill="#984EA3" fill-opacity="0.5" stroke="#984EA3" stroke-opacity="0.5" stroke-width="1"/>
<circle cx="289.38" cy="182.69" r="4.6" fill="#984EA3" fill-opacity="0.5" stroke="#984EA3" stroke-opacity="0.5" stroke-width="1"/>
<circle cx="291.11" cy="194.57" r="4.6" fill="#984EA3" fill-opacity="0.5" stroke="#984EA3" stroke-opacity="0.5" stroke-width="1"/>
<circle cx="286.29" cy="187.83" r="4.6" fill="#984EA3" fill-opacity="0.5" stroke="#984EA3" stroke-opacity="0.5" stroke-width="1"/>
<circle cx="288.98" cy="210.88" r="4.6" fill="#984EA3" fill-opacity="0.5" stroke="#984EA3" stroke-opacity="0.5" stroke-width="1"/>
<circle cx="292.77" cy="236.77" r="4.6" fill="#984EA3" fill-opacity="0.5" stroke="#984EA3" stroke-opacity="0.5" stroke-width="1"/>
<circle cx="294.42" cy="249.25" r="4.6" fill="#984EA3" fill-opacity="0.5" stroke="#984EA3" stroke-opacity="0.5" stroke-width="1"/>
<circle cx="297.25" cy="246.63" r="4.6" fill="#984EA3" fill-opacity="0.5" stroke="#984EA3" stroke-opacity="0.5" stroke-width="1"/>
<circle cx="290.17" cy="219.34" r="4.6" fill="#984EA3" fill-opacity="0.5" stroke="#984EA3" stroke-opacity="0.5" stroke-width="1"/>
<circle cx="287.91" cy="272.17" r="4.6" fill="#984EA3" fill-opacity="0.5" stroke="#984EA3" stroke-opacity="0.5" stroke-width="1"/>
<circle cx="294.23" cy="247.25" r="4.6" fill="#984EA3" fill-opacity="0.5" stroke="#984EA3" stroke-opacity="0.5" stroke-width="1"/>
<circle cx="296.69" cy="188.13" r="4.6" fill="#984EA3" fill-opacity="0.5" stroke="#984EA3" stroke-opacity="0.5" stroke-width="1"/>
<circle cx="294.03" cy="262.54" r="4.6" fill="#984EA3" fill-opacity="0.5" stroke="#984EA3" stroke-opacity="0.5" stroke-width="1"/>
<circle cx="296.40" cy="247.98" r="4.6" fill="#984EA3" fill-opacity="0.5" stroke="#984EA3" stroke-opacity="0.5" stroke-width="1"/>
<circle cx="292.70" cy="198.49" r="4.6" fill="#984EA3" fill-opacity="0.5" stroke="#984EA3" stroke-opacity="0.5" stroke-width="1"/>
<circle cx="296.69" cy="230.63" r="4.6" fill="#984EA3" fill-opacity="0.5" stroke="#984EA3" stroke-opacity="0.5" stroke-width="1"/>
<circle cx="296.58" cy="254.34" r="4.6" fill="#984EA3" fill-opacity="0.5" stroke="#984EA3" stroke-opacity="0.5" stroke-width="1"/>
<circle cx="297.43" cy="236.66" r="4.6" fill="#984EA3" fill-opacity="0.5" stroke="#984EA3" stroke-opacity="0.5" stroke-width="1"/>
<circle cx="294.87" cy="244.13" r="4.6" fill="#984EA3" fill-opacity="0.5" stroke="#984EA3" stroke-opacity="0.5" stroke-width="1"/>
<circle cx="286.40" cy="204.23" r="4.6" fill="#984EA3" fill-opacity="0.5" stroke="#984EA3" stroke-opacity="0.5" stroke-width="1"/>
<circle cx="290.62" cy="198.10" r="4.6" fill="#984EA3" fill-opacity="0.5" stroke="#984EA3" stroke-opacity="0.5" stroke-width="1"/>
<circle cx="296.70" cy="196.31" r="4.6" fill="#984EA3" fill-opacity="0.5" stroke="#984EA3" stroke-opacity="0.5" stroke-width="1"/>
<circle cx="294.04" cy="234.72" r="4.6" fill="#984EA3" fill-opacity="0.5" stroke="#984EA3" stroke-opacity="0.5" stroke-width="1"/>
<circle cx="294.71" cy="239.84" r="4.6" fill="#984EA3" fill-opacity="0.5" stroke="#984EA3" stroke-opacity="0.5" stroke-width="1"/>
<circle cx="286.04" cy="229.24" r="4.6" fill="#984EA3" fill-opacity="0.5" stroke="#984EA3" stroke-opacity="0.5" stroke-width="1"/>
<circle cx="295.58" cy="253.68" r="4.6" fill="#984EA3" fill-opacity="0.5" stroke="#984EA3" stroke-opacity="0.5" stroke-width="1"/>
<circle cx="292.85" cy="230.52" r="4.6" fill="#984EA3" fill-opacity="0.5" stroke="#984EA3" stroke-opacity="0.5" stroke-width="1"/>
<circle cx="286.85" cy="242.34" r="4.6" fill="#984EA3" fill-opacity="0.5" stroke="#984EA3" stroke-opacity="0.5" stroke-width="1"/>
<circle cx="289.23" cy="248.20" r="4.6" fill="#984EA3" fill-opacity="0.5" stroke="#984EA3" stroke-opacity="0.5" stroke-width="1"/>
<circle cx="289.40" cy="192.42" r="4.6" fill="#984EA3" fill-opacity="0.5" stroke="#984EA3" stroke-opacity="0.5" stroke-width="1"/>
<circle cx="288.63" cy="247.64" r="4.6" fill="#984EA3" fill-opacity="0.5" stroke="#984EA3" stroke-opacity="0.5" stroke-width="1"/>
<circle cx="298.49" cy="248.43" r="4.6" fill="#984EA3" fill-opacity="0.5" stroke="#984EA3" stroke-opacity="0.5" stroke-width="1"/>
<circle cx="290.90" cy="229.70" r="4.6" fill="#984EA3" fill-opacity="0.5" stroke="#984EA3" stroke-opacity="0.5" stroke-width="1"/>
<circle cx="294.75" cy="228.22" r="4.6" fill="#984EA3" fill-opacity="0.5" stroke="#984EA3" stroke-opacity="0.5" stroke-width="1"/>
<circle cx="293.90" cy="250.80" r="4.6" fill="#984EA3" fill-opacity="0.5" stroke="#984EA3" stroke-opacity="0.5" stroke-width="1"/>
<circle cx="286.99" cy="241.09" r="4.6" fill="#984EA3" fill-opacity="0.5" stroke="#984EA3" stroke-opacity="0.5" stroke-width="1"/>
<circle cx="289.25" cy="199.00" r="4.6" fill="#984EA3" fill-opacity="0.5" stroke="#984EA3" stroke-opacity="0.5" stroke-width="1"/>
<circle cx="289.90" cy="248.69" r="4.6" fill="#984EA3" fill-opacity="0.5" stroke="#984EA3" stroke-opacity="0.5" stroke-width="1"/>
<circle cx="286.16" cy="235.42" r="4.6" fill="#984EA3" fill-opacity="0.5" stroke="#984EA3" stroke-opacity="0.5" stroke-width="1"/>
<circle cx="289.44" cy="190.49" r="4.6" fill="#984EA3" fill-opacity="0.5" stroke="#984EA3" stroke-opacity="0.5" stroke-width="1"/>
<circle cx="294.86" cy="243.30" r="4.6" fill="#984EA3" fill-opacity="0.5" stroke="#984EA3" stroke-opacity="0.5" stroke-width="1"/>
<rect x="76.20" y="270.00" width="45.40" height="12.60" fill="none" stroke="#333333" stroke-width="1.5"/>
<line x1="98.90" y1="265.30" x2="98.90" y2="270.00" stroke="#333333" stroke-width="1.6" />
<line x1="98.90" y1="282.60" x2="98.90" y2="288.50" stroke="#333333" stroke-width="1.6" />
<line x1="76.20" y1="278.70" x2="121.60" y2="278.70" stroke="#333333" stroke-width="3.0" />
<rect x="140.60" y="265.10" width="45.40" height="16.20" fill="none" stroke="#333333" stroke-width="1.5"/>
<line x1="163.30" y1="244.00" x2="163.30" y2="265.10" stroke="#333333" stroke-width="1.6" />
<line x1="163.30" y1="281.30" x2="163.30" y2="289.60" stroke="#333333" stroke-width="1.6" />
<line x1="140.60" y1="274.40" x2="186.00" y2="274.40" stroke="#333333" stroke-width="3.0" />
<rect x="205.20" y="221.00" width="45.40" height="42.50" fill="none" stroke="#333333" stroke-width="1.5"/>
<line x1="227.90" y1="188.80" x2="227.90" y2="221.00" stroke="#333333" stroke-width="1.6" />
<line x1="227.90" y1="263.50" x2="227.90" y2="280.70" stroke="#333333" stroke-width="1.6" />
<line x1="205.20" y1="252.60" x2="250.60" y2="252.60" stroke="#333333" stroke-width="3.0" />
<rect x="269.70" y="205.50" width="45.40" height="43.70" fill="none" stroke="#333333" stroke-width="1.5"/>
<line x1="292.40" y1="153.60" x2="292.40" y2="205.50" stroke="#333333" stroke-width="1.6" />
<line x1="292.40" y1="249.20" x2="292.40" y2="272.30" stroke="#333333" stroke-width="1.6" />
<line x1="269.70" y1="230.30" x2="315.10" y2="230.30" stroke="#333333" stroke-width="3.0" />
<rect x="60.5" y="19.3" width="270.3" height="282.7" fill="none" stroke="#333333" stroke-width="1.1"/>
<line x1="56.30" y1="298.40" x2="60.50" y2="298.40" stroke="#333333" stroke-width="1.1" />
<text x="0" y="0" font-size="13.2" fill="#4D4D4D" text-anchor="end" transform="translate(52.50,303.00) scale(1,1.07)">0</text>
<line x1="56.30" y1="194.25" x2="60.50" y2="194.25" stroke="#333333" stroke-width="1.1" />
<text x="0" y="0" font-size="13.2" fill="#4D4D4D" text-anchor="end" transform="translate(52.50,198.85) scale(1,1.07)">50</text>
<line x1="56.30" y1="90.10" x2="60.50" y2="90.10" stroke="#333333" stroke-width="1.1" />
<text x="0" y="0" font-size="13.2" fill="#4D4D4D" text-anchor="end" transform="translate(52.50,94.70) scale(1,1.07)">100</text>
<line x1="98.90" y1="302.00" x2="98.90" y2="306.50" stroke="#333333" stroke-width="1.1" />
<text x="0" y="0" font-size="13.6" fill="#4D4D4D" text-anchor="middle" transform="translate(98.90,319.70) scale(1,1.06)">Control</text>
<line x1="163.30" y1="302.00" x2="163.30" y2="306.50" stroke="#333333" stroke-width="1.1" />
<text x="0" y="0" font-size="13.6" fill="#4D4D4D" text-anchor="middle" transform="translate(163.30,319.70) scale(1,1.06)">aDS</text>
<line x1="227.90" y1="302.00" x2="227.90" y2="306.50" stroke="#333333" stroke-width="1.1" />
<text x="0" y="0" font-size="13.6" fill="#4D4D4D" text-anchor="middle" transform="translate(227.90,319.70) scale(1,1.06)">pDS</text>
<line x1="292.40" y1="302.00" x2="292.40" y2="306.50" stroke="#333333" stroke-width="1.1" />
<text x="0" y="0" font-size="13.6" fill="#4D4D4D" text-anchor="middle" transform="translate(292.40,319.70) scale(1,1.06)">dDS</text>
<rect x="414.4" y="19.4" width="270.1" height="282.70000000000005" fill="#fff"/>
<line x1="414.40" y1="248.50" x2="684.50" y2="248.50" stroke="#EEEEEE" stroke-width="0.8" />
<line x1="414.40" y1="158.10" x2="684.50" y2="158.10" stroke="#EEEEEE" stroke-width="0.8" />
<line x1="414.40" y1="67.70" x2="684.50" y2="67.70" stroke="#EEEEEE" stroke-width="0.8" />
<line x1="414.40" y1="293.70" x2="684.50" y2="293.70" stroke="#EBEBEB" stroke-width="1.1" />
<line x1="414.40" y1="203.30" x2="684.50" y2="203.30" stroke="#EBEBEB" stroke-width="1.1" />
<line x1="414.40" y1="112.90" x2="684.50" y2="112.90" stroke="#EBEBEB" stroke-width="1.1" />
<line x1="414.40" y1="22.50" x2="684.50" y2="22.50" stroke="#EBEBEB" stroke-width="1.1" />
<line x1="452.60" y1="19.40" x2="452.60" y2="302.10" stroke="#EBEBEB" stroke-width="1.1" />
<line x1="517.10" y1="19.40" x2="517.10" y2="302.10" stroke="#EBEBEB" stroke-width="1.1" />
<line x1="581.70" y1="19.40" x2="581.70" y2="302.10" stroke="#EBEBEB" stroke-width="1.1" />
<line x1="646.20" y1="19.40" x2="646.20" y2="302.10" stroke="#EBEBEB" stroke-width="1.1" />
<circle cx="451.30" cy="278.40" r="4.6" fill="#E41A1C" fill-opacity="0.5" stroke="#E41A1C" stroke-opacity="0.5" stroke-width="1"/>
<circle cx="450.30" cy="288.42" r="4.6" fill="#E41A1C" fill-opacity="0.5" stroke="#E41A1C" stroke-opacity="0.5" stroke-width="1"/>
<circle cx="452.21" cy="287.41" r="4.6" fill="#E41A1C" fill-opacity="0.5" stroke="#E41A1C" stroke-opacity="0.5" stroke-width="1"/>
<circle cx="448.40" cy="287.08" r="4.6" fill="#E41A1C" fill-opacity="0.5" stroke="#E41A1C" stroke-opacity="0.5" stroke-width="1"/>
<circle cx="449.29" cy="289.82" r="4.6" fill="#E41A1C" fill-opacity="0.5" stroke="#E41A1C" stroke-opacity="0.5" stroke-width="1"/>
<circle cx="457.40" cy="290.36" r="4.6" fill="#E41A1C" fill-opacity="0.5" stroke="#E41A1C" stroke-opacity="0.5" stroke-width="1"/>
<circle cx="452.15" cy="284.12" r="4.6" fill="#E41A1C" fill-opacity="0.5" stroke="#E41A1C" stroke-opacity="0.5" stroke-width="1"/>
<circle cx="457.75" cy="289.35" r="4.6" fill="#E41A1C" fill-opacity="0.5" stroke="#E41A1C" stroke-opacity="0.5" stroke-width="1"/>
<circle cx="450.06" cy="286.97" r="4.6" fill="#E41A1C" fill-opacity="0.5" stroke="#E41A1C" stroke-opacity="0.5" stroke-width="1"/>
<circle cx="457.50" cy="285.38" r="4.6" fill="#E41A1C" fill-opacity="0.5" stroke="#E41A1C" stroke-opacity="0.5" stroke-width="1"/>
<circle cx="453.50" cy="285.39" r="4.6" fill="#E41A1C" fill-opacity="0.5" stroke="#E41A1C" stroke-opacity="0.5" stroke-width="1"/>
<circle cx="452.86" cy="284.94" r="4.6" fill="#E41A1C" fill-opacity="0.5" stroke="#E41A1C" stroke-opacity="0.5" stroke-width="1"/>
<circle cx="448.56" cy="290.20" r="4.6" fill="#E41A1C" fill-opacity="0.5" stroke="#E41A1C" stroke-opacity="0.5" stroke-width="1"/>
<circle cx="452.70" cy="289.35" r="4.6" fill="#E41A1C" fill-opacity="0.5" stroke="#E41A1C" stroke-opacity="0.5" stroke-width="1"/>
<circle cx="454.84" cy="289.78" r="4.6" fill="#E41A1C" fill-opacity="0.5" stroke="#E41A1C" stroke-opacity="0.5" stroke-width="1"/>
<circle cx="456.97" cy="285.53" r="4.6" fill="#E41A1C" fill-opacity="0.5" stroke="#E41A1C" stroke-opacity="0.5" stroke-width="1"/>
<circle cx="447.37" cy="287.21" r="4.6" fill="#E41A1C" fill-opacity="0.5" stroke="#E41A1C" stroke-opacity="0.5" stroke-width="1"/>
<circle cx="452.51" cy="284.02" r="4.6" fill="#E41A1C" fill-opacity="0.5" stroke="#E41A1C" stroke-opacity="0.5" stroke-width="1"/>
<circle cx="450.42" cy="286.98" r="4.6" fill="#E41A1C" fill-opacity="0.5" stroke="#E41A1C" stroke-opacity="0.5" stroke-width="1"/>
<circle cx="450.88" cy="284.93" r="4.6" fill="#E41A1C" fill-opacity="0.5" stroke="#E41A1C" stroke-opacity="0.5" stroke-width="1"/>
<circle cx="456.34" cy="286.09" r="4.6" fill="#E41A1C" fill-opacity="0.5" stroke="#E41A1C" stroke-opacity="0.5" stroke-width="1"/>
<circle cx="455.36" cy="284.01" r="4.6" fill="#E41A1C" fill-opacity="0.5" stroke="#E41A1C" stroke-opacity="0.5" stroke-width="1"/>
<circle cx="448.42" cy="289.47" r="4.6" fill="#E41A1C" fill-opacity="0.5" stroke="#E41A1C" stroke-opacity="0.5" stroke-width="1"/>
<circle cx="523.20" cy="215.90" r="4.6" fill="#377EB8" fill-opacity="0.5" stroke="#377EB8" stroke-opacity="0.5" stroke-width="1"/>
<circle cx="512.40" cy="241.10" r="4.6" fill="#377EB8" fill-opacity="0.5" stroke="#377EB8" stroke-opacity="0.5" stroke-width="1"/>
<circle cx="519.83" cy="288.91" r="4.6" fill="#377EB8" fill-opacity="0.5" stroke="#377EB8" stroke-opacity="0.5" stroke-width="1"/>
<circle cx="514.41" cy="288.37" r="4.6" fill="#377EB8" fill-opacity="0.5" stroke="#377EB8" stroke-opacity="0.5" stroke-width="1"/>
<circle cx="515.73" cy="279.41" r="4.6" fill="#377EB8" fill-opacity="0.5" stroke="#377EB8" stroke-opacity="0.5" stroke-width="1"/>
<circle cx="518.24" cy="290.47" r="4.6" fill="#377EB8" fill-opacity="0.5" stroke="#377EB8" stroke-opacity="0.5" stroke-width="1"/>
<circle cx="516.18" cy="279.02" r="4.6" fill="#377EB8" fill-opacity="0.5" stroke="#377EB8" stroke-opacity="0.5" stroke-width="1"/>
<circle cx="511.32" cy="276.15" r="4.6" fill="#377EB8" fill-opacity="0.5" stroke="#377EB8" stroke-opacity="0.5" stroke-width="1"/>
<circle cx="521.38" cy="260.21" r="4.6" fill="#377EB8" fill-opacity="0.5" stroke="#377EB8" stroke-opacity="0.5" stroke-width="1"/>
<circle cx="522.68" cy="276.50" r="4.6" fill="#377EB8" fill-opacity="0.5" stroke="#377EB8" stroke-opacity="0.5" stroke-width="1"/>
<circle cx="514.10" cy="275.23" r="4.6" fill="#377EB8" fill-opacity="0.5" stroke="#377EB8" stroke-opacity="0.5" stroke-width="1"/>
<circle cx="513.13" cy="283.76" r="4.6" fill="#377EB8" fill-opacity="0.5" stroke="#377EB8" stroke-opacity="0.5" stroke-width="1"/>
<circle cx="522.94" cy="279.44" r="4.6" fill="#377EB8" fill-opacity="0.5" stroke="#377EB8" stroke-opacity="0.5" stroke-width="1"/>
<circle cx="521.09" cy="288.00" r="4.6" fill="#377EB8" fill-opacity="0.5" stroke="#377EB8" stroke-opacity="0.5" stroke-width="1"/>
<circle cx="522.39" cy="284.43" r="4.6" fill="#377EB8" fill-opacity="0.5" stroke="#377EB8" stroke-opacity="0.5" stroke-width="1"/>
<circle cx="517.73" cy="289.22" r="4.6" fill="#377EB8" fill-opacity="0.5" stroke="#377EB8" stroke-opacity="0.5" stroke-width="1"/>
<circle cx="511.33" cy="284.93" r="4.6" fill="#377EB8" fill-opacity="0.5" stroke="#377EB8" stroke-opacity="0.5" stroke-width="1"/>
<circle cx="516.47" cy="285.00" r="4.6" fill="#377EB8" fill-opacity="0.5" stroke="#377EB8" stroke-opacity="0.5" stroke-width="1"/>
<circle cx="518.95" cy="285.16" r="4.6" fill="#377EB8" fill-opacity="0.5" stroke="#377EB8" stroke-opacity="0.5" stroke-width="1"/>
<circle cx="511.33" cy="276.52" r="4.6" fill="#377EB8" fill-opacity="0.5" stroke="#377EB8" stroke-opacity="0.5" stroke-width="1"/>
<circle cx="512.33" cy="288.92" r="4.6" fill="#377EB8" fill-opacity="0.5" stroke="#377EB8" stroke-opacity="0.5" stroke-width="1"/>
<circle cx="515.10" cy="282.77" r="4.6" fill="#377EB8" fill-opacity="0.5" stroke="#377EB8" stroke-opacity="0.5" stroke-width="1"/>
<circle cx="520.16" cy="276.91" r="4.6" fill="#377EB8" fill-opacity="0.5" stroke="#377EB8" stroke-opacity="0.5" stroke-width="1"/>
<circle cx="514.03" cy="289.99" r="4.6" fill="#377EB8" fill-opacity="0.5" stroke="#377EB8" stroke-opacity="0.5" stroke-width="1"/>
<circle cx="514.55" cy="284.57" r="4.6" fill="#377EB8" fill-opacity="0.5" stroke="#377EB8" stroke-opacity="0.5" stroke-width="1"/>
<circle cx="515.75" cy="284.02" r="4.6" fill="#377EB8" fill-opacity="0.5" stroke="#377EB8" stroke-opacity="0.5" stroke-width="1"/>
<circle cx="512.77" cy="266.89" r="4.6" fill="#377EB8" fill-opacity="0.5" stroke="#377EB8" stroke-opacity="0.5" stroke-width="1"/>
<circle cx="522.30" cy="271.01" r="4.6" fill="#377EB8" fill-opacity="0.5" stroke="#377EB8" stroke-opacity="0.5" stroke-width="1"/>
<circle cx="513.52" cy="283.60" r="4.6" fill="#377EB8" fill-opacity="0.5" stroke="#377EB8" stroke-opacity="0.5" stroke-width="1"/>
<circle cx="523.45" cy="288.48" r="4.6" fill="#377EB8" fill-opacity="0.5" stroke="#377EB8" stroke-opacity="0.5" stroke-width="1"/>
<circle cx="512.49" cy="282.02" r="4.6" fill="#377EB8" fill-opacity="0.5" stroke="#377EB8" stroke-opacity="0.5" stroke-width="1"/>
<circle cx="511.86" cy="269.44" r="4.6" fill="#377EB8" fill-opacity="0.5" stroke="#377EB8" stroke-opacity="0.5" stroke-width="1"/>
<circle cx="511.87" cy="278.39" r="4.6" fill="#377EB8" fill-opacity="0.5" stroke="#377EB8" stroke-opacity="0.5" stroke-width="1"/>
<circle cx="514.01" cy="274.19" r="4.6" fill="#377EB8" fill-opacity="0.5" stroke="#377EB8" stroke-opacity="0.5" stroke-width="1"/>
<circle cx="522.06" cy="284.09" r="4.6" fill="#377EB8" fill-opacity="0.5" stroke="#377EB8" stroke-opacity="0.5" stroke-width="1"/>
<circle cx="515.98" cy="285.10" r="4.6" fill="#377EB8" fill-opacity="0.5" stroke="#377EB8" stroke-opacity="0.5" stroke-width="1"/>
<circle cx="517.41" cy="280.81" r="4.6" fill="#377EB8" fill-opacity="0.5" stroke="#377EB8" stroke-opacity="0.5" stroke-width="1"/>
<circle cx="515.03" cy="279.56" r="4.6" fill="#377EB8" fill-opacity="0.5" stroke="#377EB8" stroke-opacity="0.5" stroke-width="1"/>
<circle cx="514.25" cy="256.43" r="4.6" fill="#377EB8" fill-opacity="0.5" stroke="#377EB8" stroke-opacity="0.5" stroke-width="1"/>
<circle cx="512.31" cy="289.80" r="4.6" fill="#377EB8" fill-opacity="0.5" stroke="#377EB8" stroke-opacity="0.5" stroke-width="1"/>
<circle cx="518.76" cy="283.72" r="4.6" fill="#377EB8" fill-opacity="0.5" stroke="#377EB8" stroke-opacity="0.5" stroke-width="1"/>
<circle cx="513.46" cy="287.54" r="4.6" fill="#377EB8" fill-opacity="0.5" stroke="#377EB8" stroke-opacity="0.5" stroke-width="1"/>
<circle cx="513.88" cy="276.01" r="4.6" fill="#377EB8" fill-opacity="0.5" stroke="#377EB8" stroke-opacity="0.5" stroke-width="1"/>
<circle cx="516.41" cy="280.33" r="4.6" fill="#377EB8" fill-opacity="0.5" stroke="#377EB8" stroke-opacity="0.5" stroke-width="1"/>
<circle cx="521.56" cy="289.51" r="4.6" fill="#377EB8" fill-opacity="0.5" stroke="#377EB8" stroke-opacity="0.5" stroke-width="1"/>
<circle cx="510.98" cy="287.75" r="4.6" fill="#377EB8" fill-opacity="0.5" stroke="#377EB8" stroke-opacity="0.5" stroke-width="1"/>
<circle cx="519.78" cy="253.82" r="4.6" fill="#377EB8" fill-opacity="0.5" stroke="#377EB8" stroke-opacity="0.5" stroke-width="1"/>
<circle cx="516.76" cy="288.25" r="4.6" fill="#377EB8" fill-opacity="0.5" stroke="#377EB8" stroke-opacity="0.5" stroke-width="1"/>
<circle cx="510.70" cy="284.19" r="4.6" fill="#377EB8" fill-opacity="0.5" stroke="#377EB8" stroke-opacity="0.5" stroke-width="1"/>
<circle cx="522.56" cy="280.06" r="4.6" fill="#377EB8" fill-opacity="0.5" stroke="#377EB8" stroke-opacity="0.5" stroke-width="1"/>
<circle cx="521.65" cy="286.73" r="4.6" fill="#377EB8" fill-opacity="0.5" stroke="#377EB8" stroke-opacity="0.5" stroke-width="1"/>
<circle cx="513.88" cy="289.90" r="4.6" fill="#377EB8" fill-opacity="0.5" stroke="#377EB8" stroke-opacity="0.5" stroke-width="1"/>
<circle cx="512.68" cy="260.96" r="4.6" fill="#377EB8" fill-opacity="0.5" stroke="#377EB8" stroke-opacity="0.5" stroke-width="1"/>
<circle cx="519.43" cy="283.83" r="4.6" fill="#377EB8" fill-opacity="0.5" stroke="#377EB8" stroke-opacity="0.5" stroke-width="1"/>
<circle cx="519.94" cy="289.24" r="4.6" fill="#377EB8" fill-opacity="0.5" stroke="#377EB8" stroke-opacity="0.5" stroke-width="1"/>
<circle cx="520.49" cy="284.53" r="4.6" fill="#377EB8" fill-opacity="0.5" stroke="#377EB8" stroke-opacity="0.5" stroke-width="1"/>
<circle cx="517.76" cy="282.27" r="4.6" fill="#377EB8" fill-opacity="0.5" stroke="#377EB8" stroke-opacity="0.5" stroke-width="1"/>
<circle cx="520.71" cy="254.46" r="4.6" fill="#377EB8" fill-opacity="0.5" stroke="#377EB8" stroke-opacity="0.5" stroke-width="1"/>
<circle cx="522.47" cy="273.53" r="4.6" fill="#377EB8" fill-opacity="0.5" stroke="#377EB8" stroke-opacity="0.5" stroke-width="1"/>
<circle cx="514.59" cy="284.51" r="4.6" fill="#377EB8" fill-opacity="0.5" stroke="#377EB8" stroke-opacity="0.5" stroke-width="1"/>
<circle cx="513.92" cy="262.88" r="4.6" fill="#377EB8" fill-opacity="0.5" stroke="#377EB8" stroke-opacity="0.5" stroke-width="1"/>
<circle cx="519.64" cy="284.46" r="4.6" fill="#377EB8" fill-opacity="0.5" stroke="#377EB8" stroke-opacity="0.5" stroke-width="1"/>
<circle cx="511.60" cy="261.27" r="4.6" fill="#377EB8" fill-opacity="0.5" stroke="#377EB8" stroke-opacity="0.5" stroke-width="1"/>
<circle cx="518.16" cy="283.84" r="4.6" fill="#377EB8" fill-opacity="0.5" stroke="#377EB8" stroke-opacity="0.5" stroke-width="1"/>
<circle cx="513.56" cy="279.94" r="4.6" fill="#377EB8" fill-opacity="0.5" stroke="#377EB8" stroke-opacity="0.5" stroke-width="1"/>
<circle cx="510.83" cy="284.27" r="4.6" fill="#377EB8" fill-opacity="0.5" stroke="#377EB8" stroke-opacity="0.5" stroke-width="1"/>
<circle cx="516.60" cy="277.03" r="4.6" fill="#377EB8" fill-opacity="0.5" stroke="#377EB8" stroke-opacity="0.5" stroke-width="1"/>
<circle cx="518.95" cy="289.61" r="4.6" fill="#377EB8" fill-opacity="0.5" stroke="#377EB8" stroke-opacity="0.5" stroke-width="1"/>
<circle cx="516.78" cy="287.99" r="4.6" fill="#377EB8" fill-opacity="0.5" stroke="#377EB8" stroke-opacity="0.5" stroke-width="1"/>
<circle cx="513.86" cy="273.75" r="4.6" fill="#377EB8" fill-opacity="0.5" stroke="#377EB8" stroke-opacity="0.5" stroke-width="1"/>
<circle cx="519.72" cy="289.65" r="4.6" fill="#377EB8" fill-opacity="0.5" stroke="#377EB8" stroke-opacity="0.5" stroke-width="1"/>
<circle cx="510.98" cy="277.23" r="4.6" fill="#377EB8" fill-opacity="0.5" stroke="#377EB8" stroke-opacity="0.5" stroke-width="1"/>
<circle cx="519.33" cy="283.64" r="4.6" fill="#377EB8" fill-opacity="0.5" stroke="#377EB8" stroke-opacity="0.5" stroke-width="1"/>
<circle cx="513.99" cy="281.01" r="4.6" fill="#377EB8" fill-opacity="0.5" stroke="#377EB8" stroke-opacity="0.5" stroke-width="1"/>
<circle cx="522.54" cy="284.64" r="4.6" fill="#377EB8" fill-opacity="0.5" stroke="#377EB8" stroke-opacity="0.5" stroke-width="1"/>
<circle cx="511.14" cy="272.94" r="4.6" fill="#377EB8" fill-opacity="0.5" stroke="#377EB8" stroke-opacity="0.5" stroke-width="1"/>
<circle cx="516.08" cy="278.26" r="4.6" fill="#377EB8" fill-opacity="0.5" stroke="#377EB8" stroke-opacity="0.5" stroke-width="1"/>
<circle cx="513.24" cy="284.72" r="4.6" fill="#377EB8" fill-opacity="0.5" stroke="#377EB8" stroke-opacity="0.5" stroke-width="1"/>
<circle cx="520.16" cy="286.12" r="4.6" fill="#377EB8" fill-opacity="0.5" stroke="#377EB8" stroke-opacity="0.5" stroke-width="1"/>
<circle cx="513.33" cy="283.73" r="4.6" fill="#377EB8" fill-opacity="0.5" stroke="#377EB8" stroke-opacity="0.5" stroke-width="1"/>
<circle cx="514.69" cy="289.85" r="4.6" fill="#377EB8" fill-opacity="0.5" stroke="#377EB8" stroke-opacity="0.5" stroke-width="1"/>
<circle cx="513.65" cy="286.61" r="4.6" fill="#377EB8" fill-opacity="0.5" stroke="#377EB8" stroke-opacity="0.5" stroke-width="1"/>
<circle cx="520.43" cy="272.39" r="4.6" fill="#377EB8" fill-opacity="0.5" stroke="#377EB8" stroke-opacity="0.5" stroke-width="1"/>
<circle cx="522.88" cy="276.81" r="4.6" fill="#377EB8" fill-opacity="0.5" stroke="#377EB8" stroke-opacity="0.5" stroke-width="1"/>
<circle cx="513.10" cy="283.56" r="4.6" fill="#377EB8" fill-opacity="0.5" stroke="#377EB8" stroke-opacity="0.5" stroke-width="1"/>
<circle cx="516.04" cy="272.59" r="4.6" fill="#377EB8" fill-opacity="0.5" stroke="#377EB8" stroke-opacity="0.5" stroke-width="1"/>
<circle cx="522.84" cy="284.63" r="4.6" fill="#377EB8" fill-opacity="0.5" stroke="#377EB8" stroke-opacity="0.5" stroke-width="1"/>
<circle cx="515.74" cy="264.76" r="4.6" fill="#377EB8" fill-opacity="0.5" stroke="#377EB8" stroke-opacity="0.5" stroke-width="1"/>
<circle cx="523.17" cy="271.53" r="4.6" fill="#377EB8" fill-opacity="0.5" stroke="#377EB8" stroke-opacity="0.5" stroke-width="1"/>
<circle cx="511.36" cy="264.30" r="4.6" fill="#377EB8" fill-opacity="0.5" stroke="#377EB8" stroke-opacity="0.5" stroke-width="1"/>
<circle cx="515.73" cy="256.26" r="4.6" fill="#377EB8" fill-opacity="0.5" stroke="#377EB8" stroke-opacity="0.5" stroke-width="1"/>
<circle cx="522.01" cy="288.30" r="4.6" fill="#377EB8" fill-opacity="0.5" stroke="#377EB8" stroke-opacity="0.5" stroke-width="1"/>
<circle cx="523.47" cy="285.00" r="4.6" fill="#377EB8" fill-opacity="0.5" stroke="#377EB8" stroke-opacity="0.5" stroke-width="1"/>
<circle cx="514.91" cy="289.02" r="4.6" fill="#377EB8" fill-opacity="0.5" stroke="#377EB8" stroke-opacity="0.5" stroke-width="1"/>
<circle cx="522.68" cy="268.74" r="4.6" fill="#377EB8" fill-opacity="0.5" stroke="#377EB8" stroke-opacity="0.5" stroke-width="1"/>
<circle cx="511.11" cy="285.08" r="4.6" fill="#377EB8" fill-opacity="0.5" stroke="#377EB8" stroke-opacity="0.5" stroke-width="1"/>
<circle cx="515.55" cy="284.62" r="4.6" fill="#377EB8" fill-opacity="0.5" stroke="#377EB8" stroke-opacity="0.5" stroke-width="1"/>
<circle cx="514.95" cy="279.46" r="4.6" fill="#377EB8" fill-opacity="0.5" stroke="#377EB8" stroke-opacity="0.5" stroke-width="1"/>
<circle cx="510.74" cy="267.08" r="4.6" fill="#377EB8" fill-opacity="0.5" stroke="#377EB8" stroke-opacity="0.5" stroke-width="1"/>
<circle cx="515.20" cy="276.30" r="4.6" fill="#377EB8" fill-opacity="0.5" stroke="#377EB8" stroke-opacity="0.5" stroke-width="1"/>
<circle cx="512.28" cy="289.54" r="4.6" fill="#377EB8" fill-opacity="0.5" stroke="#377EB8" stroke-opacity="0.5" stroke-width="1"/>
<circle cx="513.35" cy="289.73" r="4.6" fill="#377EB8" fill-opacity="0.5" stroke="#377EB8" stroke-opacity="0.5" stroke-width="1"/>
<circle cx="521.22" cy="278.88" r="4.6" fill="#377EB8" fill-opacity="0.5" stroke="#377EB8" stroke-opacity="0.5" stroke-width="1"/>
<circle cx="516.24" cy="286.66" r="4.6" fill="#377EB8" fill-opacity="0.5" stroke="#377EB8" stroke-opacity="0.5" stroke-width="1"/>
<circle cx="516.76" cy="255.31" r="4.6" fill="#377EB8" fill-opacity="0.5" stroke="#377EB8" stroke-opacity="0.5" stroke-width="1"/>
<circle cx="522.47" cy="279.42" r="4.6" fill="#377EB8" fill-opacity="0.5" stroke="#377EB8" stroke-opacity="0.5" stroke-width="1"/>
<circle cx="515.36" cy="269.50" r="4.6" fill="#377EB8" fill-opacity="0.5" stroke="#377EB8" stroke-opacity="0.5" stroke-width="1"/>
<circle cx="511.09" cy="288.28" r="4.6" fill="#377EB8" fill-opacity="0.5" stroke="#377EB8" stroke-opacity="0.5" stroke-width="1"/>
<circle cx="521.09" cy="280.70" r="4.6" fill="#377EB8" fill-opacity="0.5" stroke="#377EB8" stroke-opacity="0.5" stroke-width="1"/>
<circle cx="511.22" cy="285.46" r="4.6" fill="#377EB8" fill-opacity="0.5" stroke="#377EB8" stroke-opacity="0.5" stroke-width="1"/>
<circle cx="511.50" cy="254.05" r="4.6" fill="#377EB8" fill-opacity="0.5" stroke="#377EB8" stroke-opacity="0.5" stroke-width="1"/>
<circle cx="513.99" cy="288.77" r="4.6" fill="#377EB8" fill-opacity="0.5" stroke="#377EB8" stroke-opacity="0.5" stroke-width="1"/>
<circle cx="522.20" cy="285.08" r="4.6" fill="#377EB8" fill-opacity="0.5" stroke="#377EB8" stroke-opacity="0.5" stroke-width="1"/>
<circle cx="514.19" cy="278.29" r="4.6" fill="#377EB8" fill-opacity="0.5" stroke="#377EB8" stroke-opacity="0.5" stroke-width="1"/>
<circle cx="518.60" cy="289.59" r="4.6" fill="#377EB8" fill-opacity="0.5" stroke="#377EB8" stroke-opacity="0.5" stroke-width="1"/>
<circle cx="519.87" cy="275.71" r="4.6" fill="#377EB8" fill-opacity="0.5" stroke="#377EB8" stroke-opacity="0.5" stroke-width="1"/>
<circle cx="514.23" cy="277.53" r="4.6" fill="#377EB8" fill-opacity="0.5" stroke="#377EB8" stroke-opacity="0.5" stroke-width="1"/>
<circle cx="520.37" cy="251.33" r="4.6" fill="#377EB8" fill-opacity="0.5" stroke="#377EB8" stroke-opacity="0.5" stroke-width="1"/>
<circle cx="518.81" cy="288.70" r="4.6" fill="#377EB8" fill-opacity="0.5" stroke="#377EB8" stroke-opacity="0.5" stroke-width="1"/>
<circle cx="511.01" cy="289.27" r="4.6" fill="#377EB8" fill-opacity="0.5" stroke="#377EB8" stroke-opacity="0.5" stroke-width="1"/>
<circle cx="516.78" cy="273.66" r="4.6" fill="#377EB8" fill-opacity="0.5" stroke="#377EB8" stroke-opacity="0.5" stroke-width="1"/>
<circle cx="522.91" cy="289.57" r="4.6" fill="#377EB8" fill-opacity="0.5" stroke="#377EB8" stroke-opacity="0.5" stroke-width="1"/>
<circle cx="513.91" cy="279.89" r="4.6" fill="#377EB8" fill-opacity="0.5" stroke="#377EB8" stroke-opacity="0.5" stroke-width="1"/>
<circle cx="517.02" cy="281.35" r="4.6" fill="#377EB8" fill-opacity="0.5" stroke="#377EB8" stroke-opacity="0.5" stroke-width="1"/>
<circle cx="513.04" cy="288.95" r="4.6" fill="#377EB8" fill-opacity="0.5" stroke="#377EB8" stroke-opacity="0.5" stroke-width="1"/>
<circle cx="520.15" cy="286.24" r="4.6" fill="#377EB8" fill-opacity="0.5" stroke="#377EB8" stroke-opacity="0.5" stroke-width="1"/>
<circle cx="520.59" cy="286.67" r="4.6" fill="#377EB8" fill-opacity="0.5" stroke="#377EB8" stroke-opacity="0.5" stroke-width="1"/>
<circle cx="514.90" cy="284.30" r="4.6" fill="#377EB8" fill-opacity="0.5" stroke="#377EB8" stroke-opacity="0.5" stroke-width="1"/>
<circle cx="515.33" cy="277.64" r="4.6" fill="#377EB8" fill-opacity="0.5" stroke="#377EB8" stroke-opacity="0.5" stroke-width="1"/>
<circle cx="511.71" cy="285.80" r="4.6" fill="#377EB8" fill-opacity="0.5" stroke="#377EB8" stroke-opacity="0.5" stroke-width="1"/>
<circle cx="520.34" cy="269.94" r="4.6" fill="#377EB8" fill-opacity="0.5" stroke="#377EB8" stroke-opacity="0.5" stroke-width="1"/>
<circle cx="511.53" cy="275.03" r="4.6" fill="#377EB8" fill-opacity="0.5" stroke="#377EB8" stroke-opacity="0.5" stroke-width="1"/>
<circle cx="517.77" cy="253.96" r="4.6" fill="#377EB8" fill-opacity="0.5" stroke="#377EB8" stroke-opacity="0.5" stroke-width="1"/>
<circle cx="523.25" cy="277.85" r="4.6" fill="#377EB8" fill-opacity="0.5" stroke="#377EB8" stroke-opacity="0.5" stroke-width="1"/>
<circle cx="523.34" cy="287.98" r="4.6" fill="#377EB8" fill-opacity="0.5" stroke="#377EB8" stroke-opacity="0.5" stroke-width="1"/>
<circle cx="511.78" cy="275.80" r="4.6" fill="#377EB8" fill-opacity="0.5" stroke="#377EB8" stroke-opacity="0.5" stroke-width="1"/>
<circle cx="517.08" cy="259.67" r="4.6" fill="#377EB8" fill-opacity="0.5" stroke="#377EB8" stroke-opacity="0.5" stroke-width="1"/>
<circle cx="516.42" cy="284.87" r="4.6" fill="#377EB8" fill-opacity="0.5" stroke="#377EB8" stroke-opacity="0.5" stroke-width="1"/>
<circle cx="516.04" cy="273.69" r="4.6" fill="#377EB8" fill-opacity="0.5" stroke="#377EB8" stroke-opacity="0.5" stroke-width="1"/>
<circle cx="519.33" cy="284.37" r="4.6" fill="#377EB8" fill-opacity="0.5" stroke="#377EB8" stroke-opacity="0.5" stroke-width="1"/>
<circle cx="521.54" cy="285.09" r="4.6" fill="#377EB8" fill-opacity="0.5" stroke="#377EB8" stroke-opacity="0.5" stroke-width="1"/>
<circle cx="512.25" cy="284.62" r="4.6" fill="#377EB8" fill-opacity="0.5" stroke="#377EB8" stroke-opacity="0.5" stroke-width="1"/>
<circle cx="577.40" cy="217.60" r="4.6" fill="#4DAF4A" fill-opacity="0.5" stroke="#4DAF4A" stroke-opacity="0.5" stroke-width="1"/>
<circle cx="581.00" cy="219.50" r="4.6" fill="#4DAF4A" fill-opacity="0.5" stroke="#4DAF4A" stroke-opacity="0.5" stroke-width="1"/>
<circle cx="581.00" cy="239.00" r="4.6" fill="#4DAF4A" fill-opacity="0.5" stroke="#4DAF4A" stroke-opacity="0.5" stroke-width="1"/>
<circle cx="583.90" cy="238.20" r="4.6" fill="#4DAF4A" fill-opacity="0.5" stroke="#4DAF4A" stroke-opacity="0.5" stroke-width="1"/>
<circle cx="587.50" cy="249.10" r="4.6" fill="#4DAF4A" fill-opacity="0.5" stroke="#4DAF4A" stroke-opacity="0.5" stroke-width="1"/>
<circle cx="588.20" cy="254.10" r="4.6" fill="#4DAF4A" fill-opacity="0.5" stroke="#4DAF4A" stroke-opacity="0.5" stroke-width="1"/>
<circle cx="579.06" cy="275.54" r="4.6" fill="#4DAF4A" fill-opacity="0.5" stroke="#4DAF4A" stroke-opacity="0.5" stroke-width="1"/>
<circle cx="580.07" cy="270.29" r="4.6" fill="#4DAF4A" fill-opacity="0.5" stroke="#4DAF4A" stroke-opacity="0.5" stroke-width="1"/>
<circle cx="577.85" cy="272.82" r="4.6" fill="#4DAF4A" fill-opacity="0.5" stroke="#4DAF4A" stroke-opacity="0.5" stroke-width="1"/>
<circle cx="578.44" cy="261.96" r="4.6" fill="#4DAF4A" fill-opacity="0.5" stroke="#4DAF4A" stroke-opacity="0.5" stroke-width="1"/>
<circle cx="586.62" cy="260.45" r="4.6" fill="#4DAF4A" fill-opacity="0.5" stroke="#4DAF4A" stroke-opacity="0.5" stroke-width="1"/>
<circle cx="579.48" cy="270.46" r="4.6" fill="#4DAF4A" fill-opacity="0.5" stroke="#4DAF4A" stroke-opacity="0.5" stroke-width="1"/>
<circle cx="588.00" cy="266.27" r="4.6" fill="#4DAF4A" fill-opacity="0.5" stroke="#4DAF4A" stroke-opacity="0.5" stroke-width="1"/>
<circle cx="578.26" cy="269.41" r="4.6" fill="#4DAF4A" fill-opacity="0.5" stroke="#4DAF4A" stroke-opacity="0.5" stroke-width="1"/>
<circle cx="583.66" cy="274.64" r="4.6" fill="#4DAF4A" fill-opacity="0.5" stroke="#4DAF4A" stroke-opacity="0.5" stroke-width="1"/>
<circle cx="576.61" cy="279.75" r="4.6" fill="#4DAF4A" fill-opacity="0.5" stroke="#4DAF4A" stroke-opacity="0.5" stroke-width="1"/>
<circle cx="585.78" cy="268.56" r="4.6" fill="#4DAF4A" fill-opacity="0.5" stroke="#4DAF4A" stroke-opacity="0.5" stroke-width="1"/>
<circle cx="587.00" cy="275.54" r="4.6" fill="#4DAF4A" fill-opacity="0.5" stroke="#4DAF4A" stroke-opacity="0.5" stroke-width="1"/>
<circle cx="579.06" cy="258.65" r="4.6" fill="#4DAF4A" fill-opacity="0.5" stroke="#4DAF4A" stroke-opacity="0.5" stroke-width="1"/>
<circle cx="577.73" cy="259.91" r="4.6" fill="#4DAF4A" fill-opacity="0.5" stroke="#4DAF4A" stroke-opacity="0.5" stroke-width="1"/>
<circle cx="582.76" cy="279.24" r="4.6" fill="#4DAF4A" fill-opacity="0.5" stroke="#4DAF4A" stroke-opacity="0.5" stroke-width="1"/>
<circle cx="580.06" cy="278.04" r="4.6" fill="#4DAF4A" fill-opacity="0.5" stroke="#4DAF4A" stroke-opacity="0.5" stroke-width="1"/>
<circle cx="581.05" cy="276.25" r="4.6" fill="#4DAF4A" fill-opacity="0.5" stroke="#4DAF4A" stroke-opacity="0.5" stroke-width="1"/>
<circle cx="585.26" cy="262.29" r="4.6" fill="#4DAF4A" fill-opacity="0.5" stroke="#4DAF4A" stroke-opacity="0.5" stroke-width="1"/>
<circle cx="576.65" cy="278.48" r="4.6" fill="#4DAF4A" fill-opacity="0.5" stroke="#4DAF4A" stroke-opacity="0.5" stroke-width="1"/>
<circle cx="583.24" cy="270.72" r="4.6" fill="#4DAF4A" fill-opacity="0.5" stroke="#4DAF4A" stroke-opacity="0.5" stroke-width="1"/>
<circle cx="580.02" cy="261.48" r="4.6" fill="#4DAF4A" fill-opacity="0.5" stroke="#4DAF4A" stroke-opacity="0.5" stroke-width="1"/>
<circle cx="577.91" cy="260.26" r="4.6" fill="#4DAF4A" fill-opacity="0.5" stroke="#4DAF4A" stroke-opacity="0.5" stroke-width="1"/>
<circle cx="582.97" cy="262.14" r="4.6" fill="#4DAF4A" fill-opacity="0.5" stroke="#4DAF4A" stroke-opacity="0.5" stroke-width="1"/>
<circle cx="577.90" cy="271.54" r="4.6" fill="#4DAF4A" fill-opacity="0.5" stroke="#4DAF4A" stroke-opacity="0.5" stroke-width="1"/>
<circle cx="579.49" cy="258.18" r="4.6" fill="#4DAF4A" fill-opacity="0.5" stroke="#4DAF4A" stroke-opacity="0.5" stroke-width="1"/>
<circle cx="577.67" cy="271.94" r="4.6" fill="#4DAF4A" fill-opacity="0.5" stroke="#4DAF4A" stroke-opacity="0.5" stroke-width="1"/>
<circle cx="643.00" cy="31.60" r="4.6" fill="#984EA3" fill-opacity="0.5" stroke="#984EA3" stroke-opacity="0.5" stroke-width="1"/>
<circle cx="652.00" cy="158.00" r="4.6" fill="#984EA3" fill-opacity="0.5" stroke="#984EA3" stroke-opacity="0.5" stroke-width="1"/>
<circle cx="645.00" cy="164.30" r="4.6" fill="#984EA3" fill-opacity="0.5" stroke="#984EA3" stroke-opacity="0.5" stroke-width="1"/>
<circle cx="641.60" cy="175.80" r="4.6" fill="#984EA3" fill-opacity="0.5" stroke="#984EA3" stroke-opacity="0.5" stroke-width="1"/>
<circle cx="648.50" cy="202.80" r="4.6" fill="#984EA3" fill-opacity="0.5" stroke="#984EA3" stroke-opacity="0.5" stroke-width="1"/>
<circle cx="643.90" cy="211.60" r="4.6" fill="#984EA3" fill-opacity="0.5" stroke="#984EA3" stroke-opacity="0.5" stroke-width="1"/>
<circle cx="641.60" cy="218.50" r="4.6" fill="#984EA3" fill-opacity="0.5" stroke="#984EA3" stroke-opacity="0.5" stroke-width="1"/>
<circle cx="649.60" cy="283.20" r="4.6" fill="#984EA3" fill-opacity="0.5" stroke="#984EA3" stroke-opacity="0.5" stroke-width="1"/>
<circle cx="639.30" cy="276.30" r="4.6" fill="#984EA3" fill-opacity="0.5" stroke="#984EA3" stroke-opacity="0.5" stroke-width="1"/>
<circle cx="642.40" cy="237.25" r="4.6" fill="#984EA3" fill-opacity="0.5" stroke="#984EA3" stroke-opacity="0.5" stroke-width="1"/>
<circle cx="646.81" cy="264.54" r="4.6" fill="#984EA3" fill-opacity="0.5" stroke="#984EA3" stroke-opacity="0.5" stroke-width="1"/>
<circle cx="641.10" cy="226.25" r="4.6" fill="#984EA3" fill-opacity="0.5" stroke="#984EA3" stroke-opacity="0.5" stroke-width="1"/>
<circle cx="646.84" cy="243.07" r="4.6" fill="#984EA3" fill-opacity="0.5" stroke="#984EA3" stroke-opacity="0.5" stroke-width="1"/>
<circle cx="640.97" cy="256.86" r="4.6" fill="#984EA3" fill-opacity="0.5" stroke="#984EA3" stroke-opacity="0.5" stroke-width="1"/>
<circle cx="648.70" cy="229.83" r="4.6" fill="#984EA3" fill-opacity="0.5" stroke="#984EA3" stroke-opacity="0.5" stroke-width="1"/>
<circle cx="643.43" cy="244.09" r="4.6" fill="#984EA3" fill-opacity="0.5" stroke="#984EA3" stroke-opacity="0.5" stroke-width="1"/>
<circle cx="652.00" cy="236.93" r="4.6" fill="#984EA3" fill-opacity="0.5" stroke="#984EA3" stroke-opacity="0.5" stroke-width="1"/>
<circle cx="647.05" cy="237.27" r="4.6" fill="#984EA3" fill-opacity="0.5" stroke="#984EA3" stroke-opacity="0.5" stroke-width="1"/>
<circle cx="645.13" cy="240.40" r="4.6" fill="#984EA3" fill-opacity="0.5" stroke="#984EA3" stroke-opacity="0.5" stroke-width="1"/>
<circle cx="652.56" cy="268.40" r="4.6" fill="#984EA3" fill-opacity="0.5" stroke="#984EA3" stroke-opacity="0.5" stroke-width="1"/>
<circle cx="642.32" cy="240.86" r="4.6" fill="#984EA3" fill-opacity="0.5" stroke="#984EA3" stroke-opacity="0.5" stroke-width="1"/>
<circle cx="642.41" cy="260.98" r="4.6" fill="#984EA3" fill-opacity="0.5" stroke="#984EA3" stroke-opacity="0.5" stroke-width="1"/>
<circle cx="651.34" cy="224.21" r="4.6" fill="#984EA3" fill-opacity="0.5" stroke="#984EA3" stroke-opacity="0.5" stroke-width="1"/>
<circle cx="650.30" cy="245.06" r="4.6" fill="#984EA3" fill-opacity="0.5" stroke="#984EA3" stroke-opacity="0.5" stroke-width="1"/>
<circle cx="651.10" cy="243.84" r="4.6" fill="#984EA3" fill-opacity="0.5" stroke="#984EA3" stroke-opacity="0.5" stroke-width="1"/>
<circle cx="641.88" cy="247.66" r="4.6" fill="#984EA3" fill-opacity="0.5" stroke="#984EA3" stroke-opacity="0.5" stroke-width="1"/>
<circle cx="646.86" cy="224.53" r="4.6" fill="#984EA3" fill-opacity="0.5" stroke="#984EA3" stroke-opacity="0.5" stroke-width="1"/>
<circle cx="651.45" cy="256.93" r="4.6" fill="#984EA3" fill-opacity="0.5" stroke="#984EA3" stroke-opacity="0.5" stroke-width="1"/>
<circle cx="647.76" cy="227.17" r="4.6" fill="#984EA3" fill-opacity="0.5" stroke="#984EA3" stroke-opacity="0.5" stroke-width="1"/>
<circle cx="646.26" cy="241.36" r="4.6" fill="#984EA3" fill-opacity="0.5" stroke="#984EA3" stroke-opacity="0.5" stroke-width="1"/>
<circle cx="643.43" cy="229.19" r="4.6" fill="#984EA3" fill-opacity="0.5" stroke="#984EA3" stroke-opacity="0.5" stroke-width="1"/>
<circle cx="651.65" cy="251.38" r="4.6" fill="#984EA3" fill-opacity="0.5" stroke="#984EA3" stroke-opacity="0.5" stroke-width="1"/>
<circle cx="646.08" cy="227.87" r="4.6" fill="#984EA3" fill-opacity="0.5" stroke="#984EA3" stroke-opacity="0.5" stroke-width="1"/>
<circle cx="652.18" cy="265.07" r="4.6" fill="#984EA3" fill-opacity="0.5" stroke="#984EA3" stroke-opacity="0.5" stroke-width="1"/>
<circle cx="641.42" cy="231.03" r="4.6" fill="#984EA3" fill-opacity="0.5" stroke="#984EA3" stroke-opacity="0.5" stroke-width="1"/>
<circle cx="652.29" cy="272.81" r="4.6" fill="#984EA3" fill-opacity="0.5" stroke="#984EA3" stroke-opacity="0.5" stroke-width="1"/>
<circle cx="640.48" cy="249.19" r="4.6" fill="#984EA3" fill-opacity="0.5" stroke="#984EA3" stroke-opacity="0.5" stroke-width="1"/>
<circle cx="644.77" cy="271.87" r="4.6" fill="#984EA3" fill-opacity="0.5" stroke="#984EA3" stroke-opacity="0.5" stroke-width="1"/>
<circle cx="647.74" cy="270.64" r="4.6" fill="#984EA3" fill-opacity="0.5" stroke="#984EA3" stroke-opacity="0.5" stroke-width="1"/>
<circle cx="641.85" cy="266.18" r="4.6" fill="#984EA3" fill-opacity="0.5" stroke="#984EA3" stroke-opacity="0.5" stroke-width="1"/>
<circle cx="642.64" cy="264.01" r="4.6" fill="#984EA3" fill-opacity="0.5" stroke="#984EA3" stroke-opacity="0.5" stroke-width="1"/>
<circle cx="650.63" cy="243.71" r="4.6" fill="#984EA3" fill-opacity="0.5" stroke="#984EA3" stroke-opacity="0.5" stroke-width="1"/>
<circle cx="642.14" cy="266.43" r="4.6" fill="#984EA3" fill-opacity="0.5" stroke="#984EA3" stroke-opacity="0.5" stroke-width="1"/>
<circle cx="644.92" cy="231.77" r="4.6" fill="#984EA3" fill-opacity="0.5" stroke="#984EA3" stroke-opacity="0.5" stroke-width="1"/>
<circle cx="644.71" cy="251.23" r="4.6" fill="#984EA3" fill-opacity="0.5" stroke="#984EA3" stroke-opacity="0.5" stroke-width="1"/>
<circle cx="642.96" cy="228.38" r="4.6" fill="#984EA3" fill-opacity="0.5" stroke="#984EA3" stroke-opacity="0.5" stroke-width="1"/>
<circle cx="651.29" cy="260.83" r="4.6" fill="#984EA3" fill-opacity="0.5" stroke="#984EA3" stroke-opacity="0.5" stroke-width="1"/>
<circle cx="647.00" cy="225.46" r="4.6" fill="#984EA3" fill-opacity="0.5" stroke="#984EA3" stroke-opacity="0.5" stroke-width="1"/>
<circle cx="640.29" cy="262.42" r="4.6" fill="#984EA3" fill-opacity="0.5" stroke="#984EA3" stroke-opacity="0.5" stroke-width="1"/>
<circle cx="641.31" cy="266.94" r="4.6" fill="#984EA3" fill-opacity="0.5" stroke="#984EA3" stroke-opacity="0.5" stroke-width="1"/>
<circle cx="646.84" cy="255.02" r="4.6" fill="#984EA3" fill-opacity="0.5" stroke="#984EA3" stroke-opacity="0.5" stroke-width="1"/>
<circle cx="643.72" cy="256.29" r="4.6" fill="#984EA3" fill-opacity="0.5" stroke="#984EA3" stroke-opacity="0.5" stroke-width="1"/>
<circle cx="647.26" cy="244.81" r="4.6" fill="#984EA3" fill-opacity="0.5" stroke="#984EA3" stroke-opacity="0.5" stroke-width="1"/>
<circle cx="648.23" cy="245.20" r="4.6" fill="#984EA3" fill-opacity="0.5" stroke="#984EA3" stroke-opacity="0.5" stroke-width="1"/>
<circle cx="645.41" cy="246.68" r="4.6" fill="#984EA3" fill-opacity="0.5" stroke="#984EA3" stroke-opacity="0.5" stroke-width="1"/>
<circle cx="647.72" cy="224.83" r="4.6" fill="#984EA3" fill-opacity="0.5" stroke="#984EA3" stroke-opacity="0.5" stroke-width="1"/>
<circle cx="642.81" cy="249.67" r="4.6" fill="#984EA3" fill-opacity="0.5" stroke="#984EA3" stroke-opacity="0.5" stroke-width="1"/>
<circle cx="649.78" cy="262.76" r="4.6" fill="#984EA3" fill-opacity="0.5" stroke="#984EA3" stroke-opacity="0.5" stroke-width="1"/>
<circle cx="642.10" cy="247.48" r="4.6" fill="#984EA3" fill-opacity="0.5" stroke="#984EA3" stroke-opacity="0.5" stroke-width="1"/>
<circle cx="641.17" cy="248.53" r="4.6" fill="#984EA3" fill-opacity="0.5" stroke="#984EA3" stroke-opacity="0.5" stroke-width="1"/>
<circle cx="645.31" cy="228.57" r="4.6" fill="#984EA3" fill-opacity="0.5" stroke="#984EA3" stroke-opacity="0.5" stroke-width="1"/>
<circle cx="645.46" cy="227.26" r="4.6" fill="#984EA3" fill-opacity="0.5" stroke="#984EA3" stroke-opacity="0.5" stroke-width="1"/>
<circle cx="640.32" cy="250.87" r="4.6" fill="#984EA3" fill-opacity="0.5" stroke="#984EA3" stroke-opacity="0.5" stroke-width="1"/>
<circle cx="640.85" cy="256.73" r="4.6" fill="#984EA3" fill-opacity="0.5" stroke="#984EA3" stroke-opacity="0.5" stroke-width="1"/>
<circle cx="649.75" cy="261.23" r="4.6" fill="#984EA3" fill-opacity="0.5" stroke="#984EA3" stroke-opacity="0.5" stroke-width="1"/>
<circle cx="640.49" cy="250.93" r="4.6" fill="#984EA3" fill-opacity="0.5" stroke="#984EA3" stroke-opacity="0.5" stroke-width="1"/>
<circle cx="644.64" cy="250.58" r="4.6" fill="#984EA3" fill-opacity="0.5" stroke="#984EA3" stroke-opacity="0.5" stroke-width="1"/>
<circle cx="641.54" cy="273.25" r="4.6" fill="#984EA3" fill-opacity="0.5" stroke="#984EA3" stroke-opacity="0.5" stroke-width="1"/>
<circle cx="652.55" cy="268.00" r="4.6" fill="#984EA3" fill-opacity="0.5" stroke="#984EA3" stroke-opacity="0.5" stroke-width="1"/>
<rect x="429.90" y="286.20" width="45.40" height="2.20" fill="none" stroke="#333333" stroke-width="1.5"/>
<line x1="452.60" y1="286.50" x2="452.60" y2="286.20" stroke="#333333" stroke-width="1.6" />
<line x1="452.60" y1="288.40" x2="452.60" y2="288.00" stroke="#333333" stroke-width="1.6" />
<line x1="429.90" y1="287.30" x2="475.30" y2="287.30" stroke="#333333" stroke-width="2.6" />
<rect x="494.40" y="275.30" width="45.40" height="9.80" fill="none" stroke="#333333" stroke-width="1.5"/>
<line x1="517.10" y1="261.30" x2="517.10" y2="275.30" stroke="#333333" stroke-width="1.6" />
<line x1="517.10" y1="285.10" x2="517.10" y2="289.50" stroke="#333333" stroke-width="1.6" />
<line x1="494.40" y1="283.70" x2="539.80" y2="283.70" stroke="#333333" stroke-width="3.0" />
<rect x="559.00" y="260.60" width="45.40" height="12.30" fill="none" stroke="#333333" stroke-width="1.5"/>
<line x1="581.70" y1="249.80" x2="581.70" y2="260.60" stroke="#333333" stroke-width="1.6" />
<line x1="581.70" y1="272.90" x2="581.70" y2="279.40" stroke="#333333" stroke-width="1.6" />
<line x1="559.00" y1="269.30" x2="604.40" y2="269.30" stroke="#333333" stroke-width="3.0" />
<rect x="623.50" y="232.90" width="45.40" height="29.10" fill="none" stroke="#333333" stroke-width="1.5"/>
<line x1="646.20" y1="203.50" x2="646.20" y2="232.90" stroke="#333333" stroke-width="1.6" />
<line x1="646.20" y1="262.00" x2="646.20" y2="282.00" stroke="#333333" stroke-width="1.6" />
<line x1="623.50" y1="250.40" x2="668.90" y2="250.40" stroke="#333333" stroke-width="3.0" />
<rect x="414.4" y="19.4" width="270.1" height="282.70000000000005" fill="none" stroke="#333333" stroke-width="1.1"/>
<line x1="410.20" y1="293.70" x2="414.40" y2="293.70" stroke="#333333" stroke-width="1.1" />
<text x="0" y="0" font-size="13.2" fill="#4D4D4D" text-anchor="end" transform="translate(405.00,298.30) scale(1,1.07)">0</text>
<line x1="410.20" y1="203.30" x2="414.40" y2="203.30" stroke="#333333" stroke-width="1.1" />
<text x="0" y="0" font-size="13.2" fill="#4D4D4D" text-anchor="end" transform="translate(405.00,207.90) scale(1,1.07)">50</text>
<line x1="410.20" y1="112.90" x2="414.40" y2="112.90" stroke="#333333" stroke-width="1.1" />
<text x="0" y="0" font-size="13.2" fill="#4D4D4D" text-anchor="end" transform="translate(405.00,117.50) scale(1,1.07)">100</text>
<line x1="410.20" y1="22.50" x2="414.40" y2="22.50" stroke="#333333" stroke-width="1.1" />
<text x="0" y="0" font-size="13.2" fill="#4D4D4D" text-anchor="end" transform="translate(405.00,27.10) scale(1,1.07)">150</text>
<line x1="452.60" y1="302.10" x2="452.60" y2="306.60" stroke="#333333" stroke-width="1.1" />
<text x="0" y="0" font-size="13.6" fill="#4D4D4D" text-anchor="middle" transform="translate(452.60,319.70) scale(1,1.06)">Control</text>
<line x1="517.10" y1="302.10" x2="517.10" y2="306.60" stroke="#333333" stroke-width="1.1" />
<text x="0" y="0" font-size="13.6" fill="#4D4D4D" text-anchor="middle" transform="translate(517.10,319.70) scale(1,1.06)">aDS</text>
<line x1="581.70" y1="302.10" x2="581.70" y2="306.60" stroke="#333333" stroke-width="1.1" />
<text x="0" y="0" font-size="13.6" fill="#4D4D4D" text-anchor="middle" transform="translate(581.70,319.70) scale(1,1.06)">pDS</text>
<line x1="646.20" y1="302.10" x2="646.20" y2="306.60" stroke="#333333" stroke-width="1.1" />
<text x="0" y="0" font-size="13.6" fill="#4D4D4D" text-anchor="middle" transform="translate(646.20,319.70) scale(1,1.06)">dDS</text>
<text x="16.00" y="160.80" font-size="17" fill="#000" text-anchor="middle" font-weight="normal" transform="rotate(-90 16 160.8)">Plasma p-tau (pg/ml)</text>
<text x="372.00" y="161.30" font-size="17" fill="#000" text-anchor="middle" font-weight="normal" transform="rotate(-90 372 161.3)">Plasma NfL (pg/ml)</text>
<text x="0.00" y="18.00" font-size="28" fill="#000" text-anchor="start" font-weight="bold" >a</text>
<text x="353.50" y="18.70" font-size="28" fill="#000" text-anchor="start" font-weight="bold" >b</text>
<rect x="60.5" y="369.3" width="264.9" height="283.2" fill="#fff"/>
<line x1="102.20" y1="369.30" x2="102.20" y2="652.50" stroke="#EDEDED" stroke-width="0.9" />
<line x1="60.50" y1="608.01" x2="325.40" y2="608.01" stroke="#EDEDED" stroke-width="0.9" />
<line x1="162.60" y1="369.30" x2="162.60" y2="652.50" stroke="#EDEDED" stroke-width="0.9" />
<line x1="60.50" y1="543.44" x2="325.40" y2="543.44" stroke="#EDEDED" stroke-width="0.9" />
<line x1="223.00" y1="369.30" x2="223.00" y2="652.50" stroke="#EDEDED" stroke-width="0.9" />
<line x1="60.50" y1="478.86" x2="325.40" y2="478.86" stroke="#EDEDED" stroke-width="0.9" />
<line x1="283.40" y1="369.30" x2="283.40" y2="652.50" stroke="#EDEDED" stroke-width="0.9" />
<line x1="60.50" y1="414.29" x2="325.40" y2="414.29" stroke="#EDEDED" stroke-width="0.9" />
<line x1="72.00" y1="369.30" x2="72.00" y2="652.50" stroke="#E0E0E0" stroke-width="1.1" />
<line x1="60.50" y1="640.30" x2="325.40" y2="640.30" stroke="#E0E0E0" stroke-width="1.1" />
<line x1="132.40" y1="369.30" x2="132.40" y2="652.50" stroke="#E0E0E0" stroke-width="1.1" />
<line x1="60.50" y1="575.72" x2="325.40" y2="575.72" stroke="#E0E0E0" stroke-width="1.1" />
<line x1="192.80" y1="369.30" x2="192.80" y2="652.50" stroke="#E0E0E0" stroke-width="1.1" />
<line x1="60.50" y1="511.15" x2="325.40" y2="511.15" stroke="#E0E0E0" stroke-width="1.1" />
<line x1="253.20" y1="369.30" x2="253.20" y2="652.50" stroke="#E0E0E0" stroke-width="1.1" />
<line x1="60.50" y1="446.57" x2="325.40" y2="446.57" stroke="#E0E0E0" stroke-width="1.1" />
<line x1="313.60" y1="369.30" x2="313.60" y2="652.50" stroke="#E0E0E0" stroke-width="1.1" />
<line x1="60.50" y1="382.00" x2="325.40" y2="382.00" stroke="#E0E0E0" stroke-width="1.1" />
<rect x="-2.4" y="-2.9" width="4.8" height="5.8" rx="1" fill="#E69F00" transform="translate(76.6,623.0) rotate(0)"/>
<rect x="-2.4" y="-2.9" width="4.8" height="5.8" rx="1" fill="#E69F00" transform="translate(77.5,608.0) rotate(0)"/>
<rect x="-2.4" y="-2.9" width="4.8" height="5.8" rx="1" fill="#E69F00" transform="translate(78.3,587.3) rotate(0)"/>
<rect x="-2.4" y="-2.9" width="4.8" height="5.8" rx="1" fill="#E69F00" transform="translate(79.6,572.9) rotate(0)"/>
<rect x="-2.4" y="-2.9" width="4.8" height="5.8" rx="1" fill="#E69F00" transform="translate(80.8,562.4) rotate(0)"/>
<rect x="-2.4" y="-2.9" width="4.8" height="5.8" rx="1" fill="#E69F00" transform="translate(83.8,550.3) rotate(90)"/>
<rect x="-2.4" y="-2.9" width="4.8" height="5.8" rx="1" fill="#E69F00" transform="translate(92.4,545.3) rotate(60)"/>
<rect x="-2.4" y="-2.9" width="4.8" height="5.8" rx="1" fill="#E69F00" transform="translate(100.7,538.3) rotate(45)"/>
<rect x="-2.4" y="-2.9" width="4.8" height="5.8" rx="1" fill="#E69F00" transform="translate(103.9,526.4) rotate(0)"/>
<rect x="-2.4" y="-2.9" width="4.8" height="5.8" rx="1" fill="#E69F00" transform="translate(104.4,513.9) rotate(0)"/>
<rect x="-2.4" y="-2.9" width="4.8" height="5.8" rx="1" fill="#E69F00" transform="translate(105.9,502.1) rotate(0)"/>
<rect x="-2.4" y="-2.9" width="4.8" height="5.8" rx="1" fill="#E69F00" transform="translate(109.4,490.0) rotate(90)"/>
<rect x="-2.4" y="-2.9" width="4.8" height="5.8" rx="1" fill="#E69F00" transform="translate(114.5,482.4) rotate(30)"/>
<rect x="-2.4" y="-2.9" width="4.8" height="5.8" rx="1" fill="#E69F00" transform="translate(116.1,476.1) rotate(0)"/>
<rect x="-2.4" y="-2.9" width="4.8" height="5.8" rx="1" fill="#E69F00" transform="translate(117.3,464.2) rotate(0)"/>
<rect x="-2.4" y="-2.9" width="4.8" height="5.8" rx="1" fill="#E69F00" transform="translate(122.1,457.9) rotate(25)"/>
<rect x="-2.4" y="-2.9" width="4.8" height="5.8" rx="1" fill="#E69F00" transform="translate(126.1,446.8) rotate(0)"/>
<rect x="-2.4" y="-2.9" width="4.8" height="5.8" rx="1" fill="#E69F00" transform="translate(136.3,441.9) rotate(90)"/>
<rect x="-2.4" y="-2.9" width="4.8" height="5.8" rx="1" fill="#E69F00" transform="translate(144.3,435.8) rotate(90)"/>
<rect x="-2.4" y="-2.9" width="4.8" height="5.8" rx="1" fill="#E69F00" transform="translate(167.0,434.2) rotate(10)"/>
<rect x="-2.4" y="-2.9" width="4.8" height="5.8" rx="1" fill="#E69F00" transform="translate(177.2,429.8) rotate(90)"/>
<rect x="-2.4" y="-2.9" width="4.8" height="5.8" rx="1" fill="#E69F00" transform="translate(179.8,418.6) rotate(0)"/>
<rect x="-2.4" y="-2.9" width="4.8" height="5.8" rx="1" fill="#E69F00" transform="translate(193.3,418.1) rotate(90)"/>
<rect x="-2.4" y="-2.9" width="4.8" height="5.8" rx="1" fill="#E69F00" transform="translate(201.4,411.8) rotate(90)"/>
<rect x="-2.4" y="-2.9" width="4.8" height="5.8" rx="1" fill="#E69F00" transform="translate(219.8,406.9) rotate(0)"/>
<rect x="-2.4" y="-2.9" width="4.8" height="5.8" rx="1" fill="#E69F00" transform="translate(229.3,399.5) rotate(25)"/>
<rect x="-2.4" y="-2.9" width="4.8" height="5.8" rx="1" fill="#E69F00" transform="translate(240.3,393.2) rotate(0)"/>
<rect x="-2.4" y="-2.9" width="4.8" height="5.8" rx="1" fill="#E69F00" transform="translate(249.3,386.7) rotate(0)"/>
<path d="M74.1,640.5 L75.0,579.8 L76.6,550.0 L77.1,537.0 L80.0,532.4 L81.8,522.0 L83.5,504.7 L83.5,474.6 L85.5,470.5 L92.3,470.0 L92.9,466.0 L92.9,453.5 L98.7,453.5 L99.2,450.0 L99.2,444.3 L102.7,444.3 L105.6,435.2 L109.6,434.8 L111.4,431.0 L111.4,414.2 L114.3,410.2 L126.3,410.1 L128.2,403.5 L134.2,403.5 L135.0,394.0 L144.5,394.0 L146.0,388.0 L153.0,388.0 L154.0,384.5 L175.0,384.5 L176.0,381.9 L313.6,381.9" fill="none" stroke="#E69F00" stroke-width="4.8" stroke-linejoin="round" />
<rect x="60.5" y="369.3" width="264.9" height="283.2" fill="none" stroke="#B3B3B3" stroke-width="1.1"/>
<line x1="72.00" y1="652.50" x2="72.00" y2="656.70" stroke="#B3B3B3" stroke-width="1.1" />
<line x1="56.30" y1="640.30" x2="60.50" y2="640.30" stroke="#B3B3B3" stroke-width="1.1" />
<text x="0" y="0" font-size="13.2" fill="#4D4D4D" text-anchor="middle" transform="translate(72.00,670.30) scale(1,1.07)">0%</text>
<text x="0" y="0" font-size="13.2" fill="#4D4D4D" text-anchor="end" transform="translate(52.00,644.90) scale(1,1.07)">0%</text>
<line x1="132.40" y1="652.50" x2="132.40" y2="656.70" stroke="#B3B3B3" stroke-width="1.1" />
<line x1="56.30" y1="575.72" x2="60.50" y2="575.72" stroke="#B3B3B3" stroke-width="1.1" />
<text x="0" y="0" font-size="13.2" fill="#4D4D4D" text-anchor="middle" transform="translate(132.40,670.30) scale(1,1.07)">25%</text>
<text x="0" y="0" font-size="13.2" fill="#4D4D4D" text-anchor="end" transform="translate(52.00,580.32) scale(1,1.07)">25%</text>
<line x1="192.80" y1="652.50" x2="192.80" y2="656.70" stroke="#B3B3B3" stroke-width="1.1" />
<line x1="56.30" y1="511.15" x2="60.50" y2="511.15" stroke="#B3B3B3" stroke-width="1.1" />
<text x="0" y="0" font-size="13.2" fill="#4D4D4D" text-anchor="middle" transform="translate(192.80,670.30) scale(1,1.07)">50%</text>
<text x="0" y="0" font-size="13.2" fill="#4D4D4D" text-anchor="end" transform="translate(52.00,515.75) scale(1,1.07)">50%</text>
<line x1="253.20" y1="652.50" x2="253.20" y2="656.70" stroke="#B3B3B3" stroke-width="1.1" />
<line x1="56.30" y1="446.57" x2="60.50" y2="446.57" stroke="#B3B3B3" stroke-width="1.1" />
<text x="0" y="0" font-size="13.2" fill="#4D4D4D" text-anchor="middle" transform="translate(253.20,670.30) scale(1,1.07)">75%</text>
<text x="0" y="0" font-size="13.2" fill="#4D4D4D" text-anchor="end" transform="translate(52.00,451.18) scale(1,1.07)">75%</text>
<line x1="313.60" y1="652.50" x2="313.60" y2="656.70" stroke="#B3B3B3" stroke-width="1.1" />
<line x1="56.30" y1="382.00" x2="60.50" y2="382.00" stroke="#B3B3B3" stroke-width="1.1" />
<text x="0" y="0" font-size="13.2" fill="#4D4D4D" text-anchor="middle" transform="translate(313.60,670.30) scale(1,1.07)">100%</text>
<text x="0" y="0" font-size="13.2" fill="#4D4D4D" text-anchor="end" transform="translate(52.00,386.60) scale(1,1.07)">100%</text>
<text x="217.00" y="559.90" font-size="9.7" fill="#000" text-anchor="middle" font-weight="normal" >aDS vs pDS: AUC=0.8 (95% CI 0.73-0.87)</text>
<text x="217.00" y="585.50" font-size="9.7" fill="#000" text-anchor="middle" font-weight="normal" >aDS vs dDS: AUC=0.92 (95% CI 0.89-0.95)</text>
<text x="217.00" y="610.70" font-size="9.7" fill="#000" text-anchor="middle" font-weight="normal" >aDS vs sDS: AUC=0.88 (95% CI 0.84-0.92)</text>
<rect x="413.4" y="369.3" width="265.0" height="282.99999999999994" fill="#fff"/>
<line x1="456.00" y1="369.30" x2="456.00" y2="652.30" stroke="#EDEDED" stroke-width="0.9" />
<line x1="413.40" y1="608.01" x2="678.40" y2="608.01" stroke="#EDEDED" stroke-width="0.9" />
<line x1="516.20" y1="369.30" x2="516.20" y2="652.30" stroke="#EDEDED" stroke-width="0.9" />
<line x1="413.40" y1="543.44" x2="678.40" y2="543.44" stroke="#EDEDED" stroke-width="0.9" />
<line x1="576.40" y1="369.30" x2="576.40" y2="652.30" stroke="#EDEDED" stroke-width="0.9" />
<line x1="413.40" y1="478.86" x2="678.40" y2="478.86" stroke="#EDEDED" stroke-width="0.9" />
<line x1="636.60" y1="369.30" x2="636.60" y2="652.30" stroke="#EDEDED" stroke-width="0.9" />
<line x1="413.40" y1="414.29" x2="678.40" y2="414.29" stroke="#EDEDED" stroke-width="0.9" />
<line x1="425.90" y1="369.30" x2="425.90" y2="652.30" stroke="#E0E0E0" stroke-width="1.1" />
<line x1="413.40" y1="640.30" x2="678.40" y2="640.30" stroke="#E0E0E0" stroke-width="1.1" />
<line x1="486.10" y1="369.30" x2="486.10" y2="652.30" stroke="#E0E0E0" stroke-width="1.1" />
<line x1="413.40" y1="575.72" x2="678.40" y2="575.72" stroke="#E0E0E0" stroke-width="1.1" />
<line x1="546.30" y1="369.30" x2="546.30" y2="652.30" stroke="#E0E0E0" stroke-width="1.1" />
<line x1="413.40" y1="511.15" x2="678.40" y2="511.15" stroke="#E0E0E0" stroke-width="1.1" />
<line x1="606.50" y1="369.30" x2="606.50" y2="652.30" stroke="#E0E0E0" stroke-width="1.1" />
<line x1="413.40" y1="446.57" x2="678.40" y2="446.57" stroke="#E0E0E0" stroke-width="1.1" />
<line x1="666.70" y1="369.30" x2="666.70" y2="652.30" stroke="#E0E0E0" stroke-width="1.1" />
<line x1="413.40" y1="382.00" x2="678.40" y2="382.00" stroke="#E0E0E0" stroke-width="1.1" />
<rect x="-2.4" y="-2.9" width="4.8" height="5.8" rx="1" fill="#56B4E9" transform="translate(428.6,617.0) rotate(0)"/>
<rect x="-2.4" y="-2.9" width="4.8" height="5.8" rx="1" fill="#56B4E9" transform="translate(430.0,590.0) rotate(0)"/>
<rect x="-2.4" y="-2.9" width="4.8" height="5.8" rx="1" fill="#56B4E9" transform="translate(433.2,579.0) rotate(90)"/>
<rect x="-2.4" y="-2.9" width="4.8" height="5.8" rx="1" fill="#56B4E9" transform="translate(435.1,564.7) rotate(0)"/>
<rect x="-2.4" y="-2.9" width="4.8" height="5.8" rx="1" fill="#56B4E9" transform="translate(440.9,553.5) rotate(30)"/>
<rect x="-2.4" y="-2.9" width="4.8" height="5.8" rx="1" fill="#56B4E9" transform="translate(443.8,527.2) rotate(0)"/>
<rect x="-2.4" y="-2.9" width="4.8" height="5.8" rx="1" fill="#56B4E9" transform="translate(444.2,538.3) rotate(0)"/>
<rect x="-2.4" y="-2.9" width="4.8" height="5.8" rx="1" fill="#56B4E9" transform="translate(447.0,512.0) rotate(0)"/>
<rect x="-2.4" y="-2.9" width="4.8" height="5.8" rx="1" fill="#56B4E9" transform="translate(453.0,509.0) rotate(90)"/>
<rect x="-2.4" y="-2.9" width="4.8" height="5.8" rx="1" fill="#56B4E9" transform="translate(461.7,491.7) rotate(30)"/>
<rect x="-2.4" y="-2.9" width="4.8" height="5.8" rx="1" fill="#56B4E9" transform="translate(467.5,487.7) rotate(0)"/>
<rect x="-2.4" y="-2.9" width="4.8" height="5.8" rx="1" fill="#56B4E9" transform="translate(469.0,462.5) rotate(0)"/>
<rect x="-2.4" y="-2.9" width="4.8" height="5.8" rx="1" fill="#56B4E9" transform="translate(469.3,467.0) rotate(0)"/>
<rect x="-2.4" y="-2.9" width="4.8" height="5.8" rx="1" fill="#56B4E9" transform="translate(469.5,470.4) rotate(0)"/>
<rect x="-2.4" y="-2.9" width="4.8" height="5.8" rx="1" fill="#56B4E9" transform="translate(470.5,447.5) rotate(20)"/>
<rect x="-2.4" y="-2.9" width="4.8" height="5.8" rx="1" fill="#56B4E9" transform="translate(472.5,442.4) rotate(20)"/>
<rect x="-2.4" y="-2.9" width="4.8" height="5.8" rx="1" fill="#56B4E9" transform="translate(479.0,440.4) rotate(0)"/>
<rect x="-2.4" y="-2.9" width="4.8" height="5.8" rx="1" fill="#56B4E9" transform="translate(493.5,431.6) rotate(90)"/>
<rect x="-2.4" y="-2.9" width="4.8" height="5.8" rx="1" fill="#56B4E9" transform="translate(503.3,417.0) rotate(20)"/>
<rect x="-2.4" y="-2.9" width="4.8" height="5.8" rx="1" fill="#56B4E9" transform="translate(505.5,411.0) rotate(20)"/>
<rect x="-2.4" y="-2.9" width="4.8" height="5.8" rx="1" fill="#56B4E9" transform="translate(510.4,393.3) rotate(0)"/>
<rect x="-2.4" y="-2.9" width="4.8" height="5.8" rx="1" fill="#56B4E9" transform="translate(514.5,381.8) rotate(90)"/>
<rect x="-2.4" y="-2.9" width="4.8" height="5.8" rx="1" fill="#56B4E9" transform="translate(539.6,381.8) rotate(90)"/>
<path d="M425.3,639.5 L426.0,553.6 L428.5,494.7 L431.0,481.2 L431.6,475.1 L432.5,455.8 L436.0,454.1 L437.8,441.8 L440.4,427.8 L443.9,426.9 L444.8,405.0 L450.0,403.3 L451.8,400.7 L457.0,399.8 L458.8,395.4 L470.2,395.4 L471.9,391.0 L486.8,390.1 L488.6,386.6 L550.8,386.6 L552.0,381.9 L666.7,381.9" fill="none" stroke="#56B4E9" stroke-width="4.8" stroke-linejoin="round" />
<rect x="413.4" y="369.3" width="265.0" height="282.99999999999994" fill="none" stroke="#B3B3B3" stroke-width="1.1"/>
<line x1="425.90" y1="652.30" x2="425.90" y2="656.50" stroke="#B3B3B3" stroke-width="1.1" />
<line x1="409.20" y1="640.30" x2="413.40" y2="640.30" stroke="#B3B3B3" stroke-width="1.1" />
<text x="0" y="0" font-size="13.2" fill="#4D4D4D" text-anchor="middle" transform="translate(425.90,670.30) scale(1,1.07)">0%</text>
<text x="0" y="0" font-size="13.2" fill="#4D4D4D" text-anchor="end" transform="translate(405.00,644.90) scale(1,1.07)">0%</text>
<line x1="486.10" y1="652.30" x2="486.10" y2="656.50" stroke="#B3B3B3" stroke-width="1.1" />
<line x1="409.20" y1="575.72" x2="413.40" y2="575.72" stroke="#B3B3B3" stroke-width="1.1" />
<text x="0" y="0" font-size="13.2" fill="#4D4D4D" text-anchor="middle" transform="translate(486.10,670.30) scale(1,1.07)">25%</text>
<text x="0" y="0" font-size="13.2" fill="#4D4D4D" text-anchor="end" transform="translate(405.00,580.32) scale(1,1.07)">25%</text>
<line x1="546.30" y1="652.30" x2="546.30" y2="656.50" stroke="#B3B3B3" stroke-width="1.1" />
<line x1="409.20" y1="511.15" x2="413.40" y2="511.15" stroke="#B3B3B3" stroke-width="1.1" />
<text x="0" y="0" font-size="13.2" fill="#4D4D4D" text-anchor="middle" transform="translate(546.30,670.30) scale(1,1.07)">50%</text>
<text x="0" y="0" font-size="13.2" fill="#4D4D4D" text-anchor="end" transform="translate(405.00,515.75) scale(1,1.07)">50%</text>
<line x1="606.50" y1="652.30" x2="606.50" y2="656.50" stroke="#B3B3B3" stroke-width="1.1" />
<line x1="409.20" y1="446.57" x2="413.40" y2="446.57" stroke="#B3B3B3" stroke-width="1.1" />
<text x="0" y="0" font-size="13.2" fill="#4D4D4D" text-anchor="middle" transform="translate(606.50,670.30) scale(1,1.07)">75%</text>
<text x="0" y="0" font-size="13.2" fill="#4D4D4D" text-anchor="end" transform="translate(405.00,451.18) scale(1,1.07)">75%</text>
<line x1="666.70" y1="652.30" x2="666.70" y2="656.50" stroke="#B3B3B3" stroke-width="1.1" />
<line x1="409.20" y1="382.00" x2="413.40" y2="382.00" stroke="#B3B3B3" stroke-width="1.1" />
<text x="0" y="0" font-size="13.2" fill="#4D4D4D" text-anchor="middle" transform="translate(666.70,670.30) scale(1,1.07)">100%</text>
<text x="0" y="0" font-size="13.2" fill="#4D4D4D" text-anchor="end" transform="translate(405.00,386.60) scale(1,1.07)">100%</text>
<text x="570.40" y="559.90" font-size="9.7" fill="#000" text-anchor="middle" font-weight="normal" >aDS vs pDS: AUC=0.86 (95% CI 0.8-0.92)</text>
<text x="570.40" y="585.50" font-size="9.7" fill="#000" text-anchor="middle" font-weight="normal" >aDS vs dDS: AUC=0.96 (95% CI 0.93-0.98)</text>
<text x="570.40" y="610.70" font-size="9.7" fill="#000" text-anchor="middle" font-weight="normal" >aDS vs sDS: AUC=0.93 (95% CI 0.9-0.96)</text>
<text x="193.00" y="689.00" font-size="17" fill="#000" text-anchor="middle" font-weight="normal" >1-Specificity</text>
<text x="546.00" y="689.00" font-size="17" fill="#000" text-anchor="middle" font-weight="normal" >1-Specificity</text>
<text x="16.20" y="511.00" font-size="17.2" fill="#000" text-anchor="middle" font-weight="normal" transform="rotate(-90 16.2 511)">Sensitivity</text>
<text x="371.50" y="511.00" font-size="17.2" fill="#000" text-anchor="middle" font-weight="normal" transform="rotate(-90 371.5 511)">Sensitivity</text>
<text x="-1.00" y="369.00" font-size="28" fill="#000" text-anchor="start" font-weight="bold" >c</text>
<text x="353.00" y="368.80" font-size="28" fill="#000" text-anchor="start" font-weight="bold" >d</text>
</svg></body></html>
